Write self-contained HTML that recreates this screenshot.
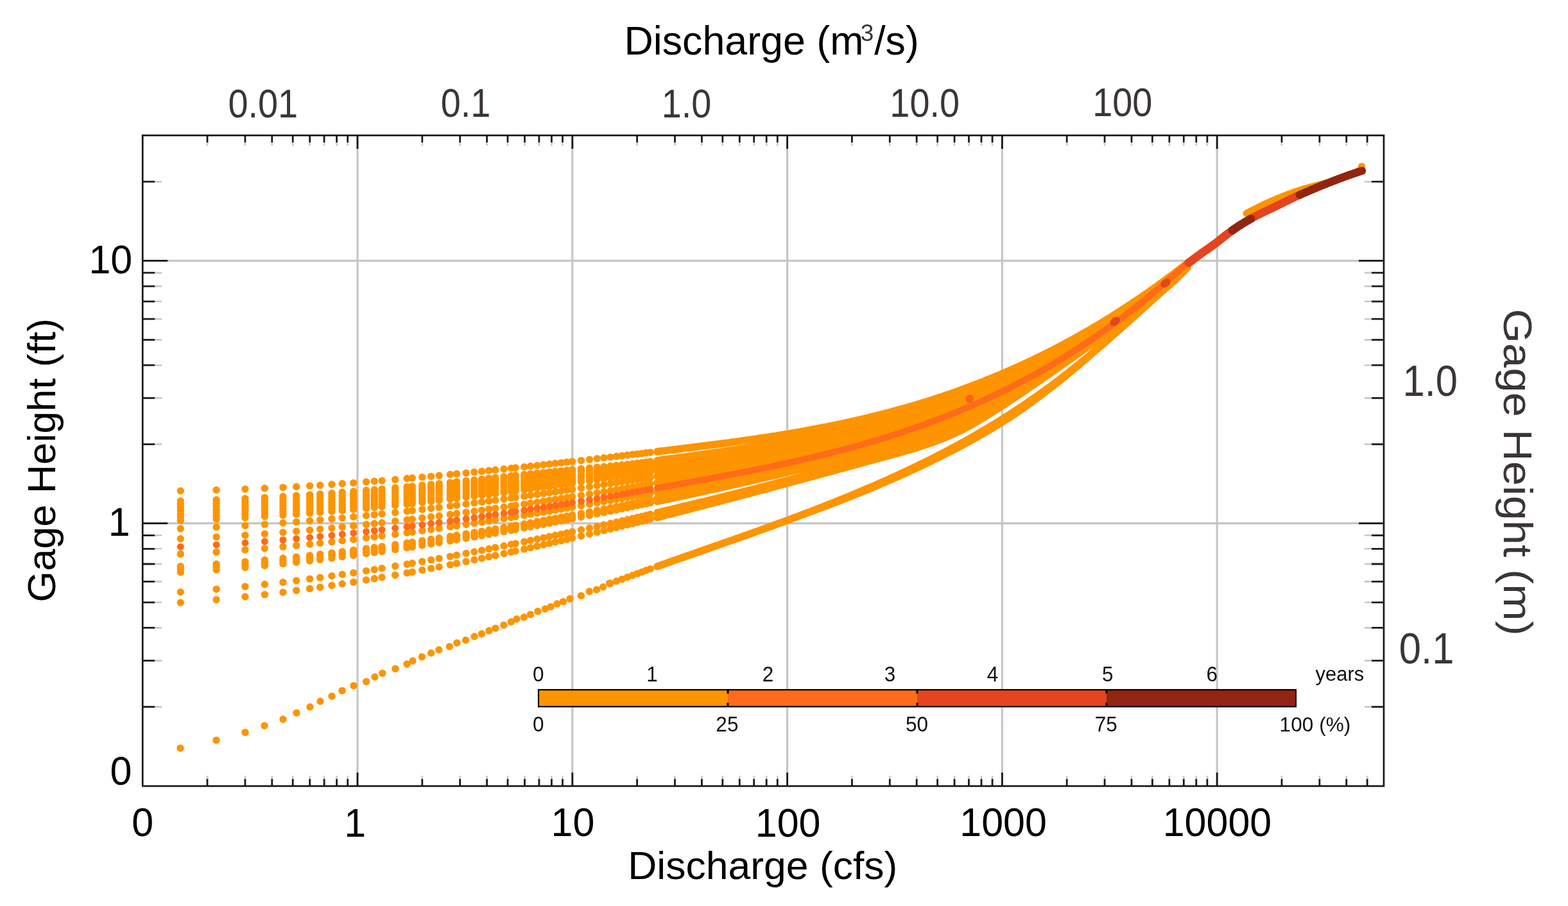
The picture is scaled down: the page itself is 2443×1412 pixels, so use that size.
<!DOCTYPE html>
<html><head><meta charset="utf-8"><title>Rating curve</title><style>html,body{margin:0;padding:0;background:#fff;overflow:hidden}svg{display:block}</style></head><body>
<svg width="2443" height="1412" viewBox="0 0 2443 1412" font-family="'Liberation Sans', Arial, Helvetica, sans-serif">
<rect x="0" y="0" width="2443" height="1412" fill="#fff"/>
<path d="M557.0 211.0V1225.1M891.8 211.0V1225.1M1226.6 211.0V1225.1M1561.4 211.0V1225.1M1896.2 211.0V1225.1M222.2 815.6H2156.0M222.2 406.4H2156.0" stroke="#c6c6c6" stroke-width="3.2" fill="none"/>
<g fill="#fe9400"><circle cx="281.3" cy="765.0" r="5.7"/><circle cx="337.1" cy="763.8" r="5.7"/><circle cx="381.9" cy="762.3" r="5.7"/><circle cx="412.4" cy="761.0" r="5.7"/><circle cx="440.9" cy="759.6" r="5.7"/><circle cx="461.7" cy="758.5" r="5.7"/><circle cx="482.6" cy="757.2" r="5.7"/><circle cx="498.7" cy="756.2" r="5.7"/><circle cx="516.9" cy="755.0" r="5.7"/><circle cx="533.2" cy="753.8" r="5.7"/><circle cx="550.7" cy="752.6" r="5.7"/><circle cx="570.6" cy="751.0" r="5.7"/><circle cx="583.2" cy="750.0" r="5.7"/><circle cx="595.0" cy="749.1" r="5.7"/><circle cx="615.7" cy="747.4" r="5.7"/><circle cx="634.1" cy="745.8" r="5.7"/><circle cx="642.3" cy="745.0" r="5.7"/><circle cx="657.8" cy="743.6" r="5.7"/><circle cx="671.6" cy="742.4" r="5.7"/><circle cx="684.1" cy="741.2" r="5.7"/><circle cx="701.4" cy="739.5" r="5.7"/><circle cx="711.5" cy="738.5" r="5.7"/><circle cx="726.2" cy="737.1" r="5.7"/><circle cx="738.9" cy="735.8" r="5.7"/><circle cx="750.6" cy="734.6" r="5.7"/><circle cx="761.7" cy="733.4" r="5.7"/><circle cx="771.8" cy="732.4" r="5.7"/><circle cx="785.1" cy="731.0" r="5.7"/><circle cx="796.4" cy="729.8" r="5.7"/><circle cx="803.2" cy="729.0" r="5.7"/><circle cx="816.7" cy="727.6" r="5.7"/><circle cx="826.5" cy="726.5" r="5.7"/><circle cx="836.9" cy="725.4" r="5.7"/><circle cx="846.8" cy="724.3" r="5.7"/><circle cx="856.0" cy="723.2" r="5.7"/><circle cx="865.2" cy="722.2" r="5.7"/><circle cx="874.4" cy="721.2" r="5.7"/><circle cx="883.0" cy="720.2" r="5.7"/><circle cx="891.6" cy="719.2" r="5.7"/><circle cx="905.5" cy="717.6" r="5.7"/><circle cx="918.5" cy="716.1" r="5.7"/><circle cx="930.2" cy="714.8" r="5.7"/><circle cx="940.9" cy="713.5" r="5.7"/><circle cx="951.0" cy="712.4" r="5.7"/><circle cx="960.4" cy="711.3" r="5.7"/><circle cx="969.2" cy="710.2" r="5.7"/><circle cx="977.5" cy="709.3" r="5.7"/><circle cx="985.4" cy="708.3" r="5.7"/><circle cx="992.9" cy="707.4" r="5.7"/><circle cx="1000.0" cy="706.6" r="5.7"/><circle cx="1006.8" cy="705.8" r="5.7"/><circle cx="1013.2" cy="705.1" r="5.7"/><circle cx="281.3" cy="780.7" r="5.7"/><circle cx="337.1" cy="778.9" r="5.7"/><circle cx="381.9" cy="777.0" r="5.7"/><circle cx="412.4" cy="775.4" r="5.7"/><circle cx="440.9" cy="773.8" r="5.7"/><circle cx="461.7" cy="772.5" r="5.7"/><circle cx="482.6" cy="771.1" r="5.7"/><circle cx="498.7" cy="769.9" r="5.7"/><circle cx="516.9" cy="768.6" r="5.7"/><circle cx="533.2" cy="767.3" r="5.7"/><circle cx="550.7" cy="765.9" r="5.7"/><circle cx="570.6" cy="764.3" r="5.7"/><circle cx="583.2" cy="763.2" r="5.7"/><circle cx="595.0" cy="762.1" r="5.7"/><circle cx="615.7" cy="760.3" r="5.7"/><circle cx="634.1" cy="758.6" r="5.7"/><circle cx="642.3" cy="757.8" r="5.7"/><circle cx="657.8" cy="756.3" r="5.7"/><circle cx="671.6" cy="754.9" r="5.7"/><circle cx="684.1" cy="753.6" r="5.7"/><circle cx="701.4" cy="751.9" r="5.7"/><circle cx="711.5" cy="750.8" r="5.7"/><circle cx="726.2" cy="749.2" r="5.7"/><circle cx="738.9" cy="747.9" r="5.7"/><circle cx="750.6" cy="746.6" r="5.7"/><circle cx="761.7" cy="745.4" r="5.7"/><circle cx="771.8" cy="744.2" r="5.7"/><circle cx="785.1" cy="742.7" r="5.7"/><circle cx="796.4" cy="741.5" r="5.7"/><circle cx="803.2" cy="740.7" r="5.7"/><circle cx="816.7" cy="739.3" r="5.7"/><circle cx="826.5" cy="738.3" r="5.7"/><circle cx="836.9" cy="737.3" r="5.7"/><circle cx="846.8" cy="736.3" r="5.7"/><circle cx="856.0" cy="735.4" r="5.7"/><circle cx="865.2" cy="734.5" r="5.7"/><circle cx="874.4" cy="733.6" r="5.7"/><circle cx="883.0" cy="732.7" r="5.7"/><circle cx="891.6" cy="731.9" r="5.7"/><circle cx="905.5" cy="730.4" r="5.7"/><circle cx="918.5" cy="729.2" r="5.7"/><circle cx="930.2" cy="728.1" r="5.7"/><circle cx="940.9" cy="727.1" r="5.7"/><circle cx="951.0" cy="726.2" r="5.7"/><circle cx="960.4" cy="725.3" r="5.7"/><circle cx="969.2" cy="724.5" r="5.7"/><circle cx="977.5" cy="723.6" r="5.7"/><circle cx="985.4" cy="722.7" r="5.7"/><circle cx="992.9" cy="721.8" r="5.7"/><circle cx="1000.0" cy="720.9" r="5.7"/><circle cx="1006.8" cy="720.0" r="5.7"/><circle cx="1013.2" cy="719.1" r="5.7"/><circle cx="281.3" cy="785.8" r="5.7"/><circle cx="337.1" cy="784.0" r="5.7"/><circle cx="381.9" cy="782.0" r="5.7"/><circle cx="412.4" cy="780.3" r="5.7"/><circle cx="440.9" cy="778.6" r="5.7"/><circle cx="461.7" cy="777.3" r="5.7"/><circle cx="482.6" cy="775.9" r="5.7"/><circle cx="498.7" cy="774.7" r="5.7"/><circle cx="516.9" cy="773.3" r="5.7"/><circle cx="533.2" cy="772.0" r="5.7"/><circle cx="550.7" cy="770.6" r="5.7"/><circle cx="570.6" cy="768.9" r="5.7"/><circle cx="583.2" cy="767.8" r="5.7"/><circle cx="595.0" cy="766.7" r="5.7"/><circle cx="615.7" cy="764.8" r="5.7"/><circle cx="634.1" cy="763.1" r="5.7"/><circle cx="642.3" cy="762.3" r="5.7"/><circle cx="657.8" cy="760.7" r="5.7"/><circle cx="671.6" cy="759.3" r="5.7"/><circle cx="684.1" cy="758.0" r="5.7"/><circle cx="701.4" cy="756.2" r="5.7"/><circle cx="711.5" cy="755.1" r="5.7"/><circle cx="726.2" cy="753.5" r="5.7"/><circle cx="738.9" cy="752.1" r="5.7"/><circle cx="750.6" cy="750.8" r="5.7"/><circle cx="761.7" cy="749.6" r="5.7"/><circle cx="771.8" cy="748.4" r="5.7"/><circle cx="785.1" cy="746.9" r="5.7"/><circle cx="796.4" cy="745.6" r="5.7"/><circle cx="803.2" cy="744.8" r="5.7"/><circle cx="816.7" cy="743.3" r="5.7"/><circle cx="826.5" cy="742.3" r="5.7"/><circle cx="836.9" cy="741.2" r="5.7"/><circle cx="846.8" cy="740.1" r="5.7"/><circle cx="856.0" cy="739.2" r="5.7"/><circle cx="865.2" cy="738.2" r="5.7"/><circle cx="874.4" cy="737.2" r="5.7"/><circle cx="883.0" cy="736.3" r="5.7"/><circle cx="891.6" cy="735.4" r="5.7"/><circle cx="905.5" cy="733.9" r="5.7"/><circle cx="918.5" cy="732.6" r="5.7"/><circle cx="930.2" cy="731.4" r="5.7"/><circle cx="940.9" cy="730.3" r="5.7"/><circle cx="951.0" cy="729.3" r="5.7"/><circle cx="960.4" cy="728.3" r="5.7"/><circle cx="969.2" cy="727.4" r="5.7"/><circle cx="977.5" cy="726.5" r="5.7"/><circle cx="985.4" cy="725.5" r="5.7"/><circle cx="992.9" cy="724.6" r="5.7"/><circle cx="1000.0" cy="723.7" r="5.7"/><circle cx="1006.8" cy="722.7" r="5.7"/><circle cx="1013.2" cy="721.9" r="5.7"/><circle cx="281.3" cy="790.9" r="5.7"/><circle cx="337.1" cy="789.0" r="5.7"/><circle cx="381.9" cy="786.9" r="5.7"/><circle cx="412.4" cy="785.3" r="5.7"/><circle cx="440.9" cy="783.5" r="5.7"/><circle cx="461.7" cy="782.1" r="5.7"/><circle cx="482.6" cy="780.7" r="5.7"/><circle cx="498.7" cy="779.5" r="5.7"/><circle cx="516.9" cy="778.1" r="5.7"/><circle cx="533.2" cy="776.7" r="5.7"/><circle cx="550.7" cy="775.3" r="5.7"/><circle cx="570.6" cy="773.5" r="5.7"/><circle cx="583.2" cy="772.4" r="5.7"/><circle cx="595.0" cy="771.3" r="5.7"/><circle cx="615.7" cy="769.4" r="5.7"/><circle cx="634.1" cy="767.6" r="5.7"/><circle cx="642.3" cy="766.7" r="5.7"/><circle cx="657.8" cy="765.2" r="5.7"/><circle cx="671.6" cy="763.7" r="5.7"/><circle cx="684.1" cy="762.4" r="5.7"/><circle cx="701.4" cy="760.6" r="5.7"/><circle cx="711.5" cy="759.5" r="5.7"/><circle cx="726.2" cy="757.8" r="5.7"/><circle cx="738.9" cy="756.4" r="5.7"/><circle cx="750.6" cy="755.1" r="5.7"/><circle cx="761.7" cy="753.8" r="5.7"/><circle cx="771.8" cy="752.6" r="5.7"/><circle cx="785.1" cy="751.0" r="5.7"/><circle cx="796.4" cy="749.7" r="5.7"/><circle cx="803.2" cy="748.9" r="5.7"/><circle cx="816.7" cy="747.4" r="5.7"/><circle cx="826.5" cy="746.3" r="5.7"/><circle cx="836.9" cy="745.1" r="5.7"/><circle cx="846.8" cy="744.0" r="5.7"/><circle cx="856.0" cy="743.0" r="5.7"/><circle cx="865.2" cy="742.0" r="5.7"/><circle cx="874.4" cy="740.9" r="5.7"/><circle cx="883.0" cy="739.9" r="5.7"/><circle cx="891.6" cy="739.0" r="5.7"/><circle cx="905.5" cy="737.4" r="5.7"/><circle cx="918.5" cy="735.9" r="5.7"/><circle cx="930.2" cy="734.6" r="5.7"/><circle cx="940.9" cy="733.5" r="5.7"/><circle cx="951.0" cy="732.4" r="5.7"/><circle cx="960.4" cy="731.3" r="5.7"/><circle cx="969.2" cy="730.3" r="5.7"/><circle cx="977.5" cy="729.3" r="5.7"/><circle cx="985.4" cy="728.4" r="5.7"/><circle cx="992.9" cy="727.4" r="5.7"/><circle cx="1000.0" cy="726.4" r="5.7"/><circle cx="1006.8" cy="725.5" r="5.7"/><circle cx="1013.2" cy="724.6" r="5.7"/><circle cx="281.3" cy="796.0" r="5.7"/><circle cx="337.1" cy="794.0" r="5.7"/><circle cx="381.9" cy="791.9" r="5.7"/><circle cx="412.4" cy="790.2" r="5.7"/><circle cx="440.9" cy="788.4" r="5.7"/><circle cx="461.7" cy="787.0" r="5.7"/><circle cx="482.6" cy="785.5" r="5.7"/><circle cx="498.7" cy="784.2" r="5.7"/><circle cx="516.9" cy="782.8" r="5.7"/><circle cx="533.2" cy="781.5" r="5.7"/><circle cx="550.7" cy="780.0" r="5.7"/><circle cx="570.6" cy="778.2" r="5.7"/><circle cx="583.2" cy="777.0" r="5.7"/><circle cx="595.0" cy="775.9" r="5.7"/><circle cx="615.7" cy="773.9" r="5.7"/><circle cx="634.1" cy="772.1" r="5.7"/><circle cx="642.3" cy="771.2" r="5.7"/><circle cx="657.8" cy="769.6" r="5.7"/><circle cx="671.6" cy="768.2" r="5.7"/><circle cx="684.1" cy="766.8" r="5.7"/><circle cx="701.4" cy="764.9" r="5.7"/><circle cx="711.5" cy="763.8" r="5.7"/><circle cx="726.2" cy="762.1" r="5.7"/><circle cx="738.9" cy="760.7" r="5.7"/><circle cx="750.6" cy="759.3" r="5.7"/><circle cx="761.7" cy="758.0" r="5.7"/><circle cx="771.8" cy="756.8" r="5.7"/><circle cx="785.1" cy="755.2" r="5.7"/><circle cx="796.4" cy="753.8" r="5.7"/><circle cx="803.2" cy="753.0" r="5.7"/><circle cx="816.7" cy="751.4" r="5.7"/><circle cx="826.5" cy="750.2" r="5.7"/><circle cx="836.9" cy="749.0" r="5.7"/><circle cx="846.8" cy="747.8" r="5.7"/><circle cx="856.0" cy="746.8" r="5.7"/><circle cx="865.2" cy="745.7" r="5.7"/><circle cx="874.4" cy="744.6" r="5.7"/><circle cx="883.0" cy="743.6" r="5.7"/><circle cx="891.6" cy="742.5" r="5.7"/><circle cx="905.5" cy="740.8" r="5.7"/><circle cx="918.5" cy="739.3" r="5.7"/><circle cx="930.2" cy="737.9" r="5.7"/><circle cx="940.9" cy="736.7" r="5.7"/><circle cx="951.0" cy="735.5" r="5.7"/><circle cx="960.4" cy="734.3" r="5.7"/><circle cx="969.2" cy="733.3" r="5.7"/><circle cx="977.5" cy="732.2" r="5.7"/><circle cx="985.4" cy="731.2" r="5.7"/><circle cx="992.9" cy="730.2" r="5.7"/><circle cx="1000.0" cy="729.2" r="5.7"/><circle cx="1006.8" cy="728.2" r="5.7"/><circle cx="1013.2" cy="727.3" r="5.7"/><circle cx="281.3" cy="801.0" r="5.7"/><circle cx="337.1" cy="799.0" r="5.7"/><circle cx="381.9" cy="796.8" r="5.7"/><circle cx="412.4" cy="795.1" r="5.7"/><circle cx="440.9" cy="793.3" r="5.7"/><circle cx="461.7" cy="791.8" r="5.7"/><circle cx="482.6" cy="790.3" r="5.7"/><circle cx="498.7" cy="789.0" r="5.7"/><circle cx="516.9" cy="787.5" r="5.7"/><circle cx="533.2" cy="786.2" r="5.7"/><circle cx="550.7" cy="784.6" r="5.7"/><circle cx="570.6" cy="782.8" r="5.7"/><circle cx="583.2" cy="781.6" r="5.7"/><circle cx="595.0" cy="780.5" r="5.7"/><circle cx="615.7" cy="778.5" r="5.7"/><circle cx="634.1" cy="776.6" r="5.7"/><circle cx="642.3" cy="775.7" r="5.7"/><circle cx="657.8" cy="774.1" r="5.7"/><circle cx="671.6" cy="772.6" r="5.7"/><circle cx="684.1" cy="771.2" r="5.7"/><circle cx="701.4" cy="769.3" r="5.7"/><circle cx="711.5" cy="768.1" r="5.7"/><circle cx="726.2" cy="766.4" r="5.7"/><circle cx="738.9" cy="764.9" r="5.7"/><circle cx="750.6" cy="763.5" r="5.7"/><circle cx="761.7" cy="762.2" r="5.7"/><circle cx="771.8" cy="760.9" r="5.7"/><circle cx="785.1" cy="759.3" r="5.7"/><circle cx="796.4" cy="757.9" r="5.7"/><circle cx="803.2" cy="757.1" r="5.7"/><circle cx="816.7" cy="755.4" r="5.7"/><circle cx="826.5" cy="754.2" r="5.7"/><circle cx="836.9" cy="752.9" r="5.7"/><circle cx="846.8" cy="751.7" r="5.7"/><circle cx="856.0" cy="750.6" r="5.7"/><circle cx="865.2" cy="749.4" r="5.7"/><circle cx="874.4" cy="748.3" r="5.7"/><circle cx="883.0" cy="747.2" r="5.7"/><circle cx="891.6" cy="746.1" r="5.7"/><circle cx="905.5" cy="744.3" r="5.7"/><circle cx="918.5" cy="742.7" r="5.7"/><circle cx="930.2" cy="741.2" r="5.7"/><circle cx="940.9" cy="739.8" r="5.7"/><circle cx="951.0" cy="738.5" r="5.7"/><circle cx="960.4" cy="737.3" r="5.7"/><circle cx="969.2" cy="736.2" r="5.7"/><circle cx="977.5" cy="735.1" r="5.7"/><circle cx="985.4" cy="734.0" r="5.7"/><circle cx="992.9" cy="733.0" r="5.7"/><circle cx="1000.0" cy="732.0" r="5.7"/><circle cx="1006.8" cy="731.0" r="5.7"/><circle cx="1013.2" cy="730.1" r="5.7"/><circle cx="281.3" cy="806.1" r="5.7"/><circle cx="337.1" cy="804.0" r="5.7"/><circle cx="381.9" cy="801.8" r="5.7"/><circle cx="412.4" cy="800.0" r="5.7"/><circle cx="440.9" cy="798.1" r="5.7"/><circle cx="461.7" cy="796.6" r="5.7"/><circle cx="482.6" cy="795.1" r="5.7"/><circle cx="498.7" cy="793.8" r="5.7"/><circle cx="516.9" cy="792.3" r="5.7"/><circle cx="533.2" cy="790.9" r="5.7"/><circle cx="550.7" cy="789.3" r="5.7"/><circle cx="570.6" cy="787.5" r="5.7"/><circle cx="583.2" cy="786.2" r="5.7"/><circle cx="595.0" cy="785.1" r="5.7"/><circle cx="615.7" cy="783.0" r="5.7"/><circle cx="634.1" cy="781.1" r="5.7"/><circle cx="642.3" cy="780.2" r="5.7"/><circle cx="657.8" cy="778.5" r="5.7"/><circle cx="671.6" cy="777.0" r="5.7"/><circle cx="684.1" cy="775.6" r="5.7"/><circle cx="701.4" cy="773.6" r="5.7"/><circle cx="711.5" cy="772.4" r="5.7"/><circle cx="726.2" cy="770.7" r="5.7"/><circle cx="738.9" cy="769.2" r="5.7"/><circle cx="750.6" cy="767.8" r="5.7"/><circle cx="761.7" cy="766.4" r="5.7"/><circle cx="771.8" cy="765.1" r="5.7"/><circle cx="785.1" cy="763.5" r="5.7"/><circle cx="796.4" cy="762.0" r="5.7"/><circle cx="803.2" cy="761.2" r="5.7"/><circle cx="816.7" cy="759.4" r="5.7"/><circle cx="826.5" cy="758.2" r="5.7"/><circle cx="836.9" cy="756.8" r="5.7"/><circle cx="846.8" cy="755.5" r="5.7"/><circle cx="856.0" cy="754.3" r="5.7"/><circle cx="865.2" cy="753.1" r="5.7"/><circle cx="874.4" cy="751.9" r="5.7"/><circle cx="883.0" cy="750.8" r="5.7"/><circle cx="891.6" cy="749.6" r="5.7"/><circle cx="905.5" cy="747.8" r="5.7"/><circle cx="918.5" cy="746.0" r="5.7"/><circle cx="930.2" cy="744.4" r="5.7"/><circle cx="940.9" cy="743.0" r="5.7"/><circle cx="951.0" cy="741.6" r="5.7"/><circle cx="960.4" cy="740.3" r="5.7"/><circle cx="969.2" cy="739.1" r="5.7"/><circle cx="977.5" cy="738.0" r="5.7"/><circle cx="985.4" cy="736.8" r="5.7"/><circle cx="992.9" cy="735.8" r="5.7"/><circle cx="1000.0" cy="734.7" r="5.7"/><circle cx="1006.8" cy="733.7" r="5.7"/><circle cx="1013.2" cy="732.8" r="5.7"/><circle cx="281.3" cy="811.2" r="5.7"/><circle cx="337.1" cy="809.1" r="5.7"/><circle cx="381.9" cy="806.7" r="5.7"/><circle cx="412.4" cy="804.9" r="5.7"/><circle cx="440.9" cy="803.0" r="5.7"/><circle cx="461.7" cy="801.5" r="5.7"/><circle cx="482.6" cy="799.9" r="5.7"/><circle cx="498.7" cy="798.6" r="5.7"/><circle cx="516.9" cy="797.0" r="5.7"/><circle cx="533.2" cy="795.6" r="5.7"/><circle cx="550.7" cy="794.0" r="5.7"/><circle cx="570.6" cy="792.1" r="5.7"/><circle cx="583.2" cy="790.9" r="5.7"/><circle cx="595.0" cy="789.7" r="5.7"/><circle cx="615.7" cy="787.5" r="5.7"/><circle cx="634.1" cy="785.6" r="5.7"/><circle cx="642.3" cy="784.7" r="5.7"/><circle cx="657.8" cy="783.0" r="5.7"/><circle cx="671.6" cy="781.4" r="5.7"/><circle cx="684.1" cy="780.0" r="5.7"/><circle cx="701.4" cy="778.0" r="5.7"/><circle cx="711.5" cy="776.8" r="5.7"/><circle cx="726.2" cy="775.0" r="5.7"/><circle cx="738.9" cy="773.4" r="5.7"/><circle cx="750.6" cy="772.0" r="5.7"/><circle cx="761.7" cy="770.6" r="5.7"/><circle cx="771.8" cy="769.3" r="5.7"/><circle cx="785.1" cy="767.6" r="5.7"/><circle cx="796.4" cy="766.1" r="5.7"/><circle cx="803.2" cy="765.2" r="5.7"/><circle cx="816.7" cy="763.5" r="5.7"/><circle cx="826.5" cy="762.1" r="5.7"/><circle cx="836.9" cy="760.7" r="5.7"/><circle cx="846.8" cy="759.4" r="5.7"/><circle cx="856.0" cy="758.1" r="5.7"/><circle cx="865.2" cy="756.9" r="5.7"/><circle cx="874.4" cy="755.6" r="5.7"/><circle cx="883.0" cy="754.4" r="5.7"/><circle cx="891.6" cy="753.2" r="5.7"/><circle cx="905.5" cy="751.2" r="5.7"/><circle cx="918.5" cy="749.4" r="5.7"/><circle cx="930.2" cy="747.7" r="5.7"/><circle cx="940.9" cy="746.2" r="5.7"/><circle cx="951.0" cy="744.7" r="5.7"/><circle cx="960.4" cy="743.3" r="5.7"/><circle cx="969.2" cy="742.0" r="5.7"/><circle cx="977.5" cy="740.8" r="5.7"/><circle cx="985.4" cy="739.7" r="5.7"/><circle cx="992.9" cy="738.6" r="5.7"/><circle cx="1000.0" cy="737.5" r="5.7"/><circle cx="1006.8" cy="736.5" r="5.7"/><circle cx="1013.2" cy="735.5" r="5.7"/><circle cx="281.3" cy="824.0" r="5.7"/><circle cx="337.1" cy="821.6" r="5.7"/><circle cx="381.9" cy="819.1" r="5.7"/><circle cx="412.4" cy="817.1" r="5.7"/><circle cx="440.9" cy="815.0" r="5.7"/><circle cx="461.7" cy="813.4" r="5.7"/><circle cx="482.6" cy="811.7" r="5.7"/><circle cx="498.7" cy="810.3" r="5.7"/><circle cx="516.9" cy="808.7" r="5.7"/><circle cx="533.2" cy="807.2" r="5.7"/><circle cx="550.7" cy="805.5" r="5.7"/><circle cx="570.6" cy="803.5" r="5.7"/><circle cx="583.2" cy="802.2" r="5.7"/><circle cx="595.0" cy="800.9" r="5.7"/><circle cx="615.7" cy="798.7" r="5.7"/><circle cx="634.1" cy="796.6" r="5.7"/><circle cx="642.3" cy="795.7" r="5.7"/><circle cx="657.8" cy="793.9" r="5.7"/><circle cx="671.6" cy="792.3" r="5.7"/><circle cx="684.1" cy="790.8" r="5.7"/><circle cx="701.4" cy="788.6" r="5.7"/><circle cx="711.5" cy="787.4" r="5.7"/><circle cx="726.2" cy="785.5" r="5.7"/><circle cx="738.9" cy="783.9" r="5.7"/><circle cx="750.6" cy="782.4" r="5.7"/><circle cx="761.7" cy="780.9" r="5.7"/><circle cx="771.8" cy="779.5" r="5.7"/><circle cx="785.1" cy="777.8" r="5.7"/><circle cx="796.4" cy="776.2" r="5.7"/><circle cx="803.2" cy="775.3" r="5.7"/><circle cx="816.7" cy="773.4" r="5.7"/><circle cx="826.5" cy="772.0" r="5.7"/><circle cx="836.9" cy="770.6" r="5.7"/><circle cx="846.8" cy="769.1" r="5.7"/><circle cx="856.0" cy="767.8" r="5.7"/><circle cx="865.2" cy="766.5" r="5.7"/><circle cx="874.4" cy="765.2" r="5.7"/><circle cx="883.0" cy="763.9" r="5.7"/><circle cx="891.6" cy="762.6" r="5.7"/><circle cx="905.5" cy="760.6" r="5.7"/><circle cx="918.5" cy="758.6" r="5.7"/><circle cx="930.2" cy="756.8" r="5.7"/><circle cx="940.9" cy="755.2" r="5.7"/><circle cx="951.0" cy="753.7" r="5.7"/><circle cx="960.4" cy="752.2" r="5.7"/><circle cx="969.2" cy="750.9" r="5.7"/><circle cx="977.5" cy="749.6" r="5.7"/><circle cx="985.4" cy="748.4" r="5.7"/><circle cx="992.9" cy="747.2" r="5.7"/><circle cx="1000.0" cy="746.1" r="5.7"/><circle cx="1006.8" cy="745.0" r="5.7"/><circle cx="1013.2" cy="744.0" r="5.7"/><circle cx="281.3" cy="839.7" r="5.7"/><circle cx="337.1" cy="836.9" r="5.7"/><circle cx="381.9" cy="834.2" r="5.7"/><circle cx="412.4" cy="832.0" r="5.7"/><circle cx="440.9" cy="829.8" r="5.7"/><circle cx="461.7" cy="828.0" r="5.7"/><circle cx="482.6" cy="826.2" r="5.7"/><circle cx="498.7" cy="824.7" r="5.7"/><circle cx="516.9" cy="823.0" r="5.7"/><circle cx="533.2" cy="821.3" r="5.7"/><circle cx="550.7" cy="819.5" r="5.7"/><circle cx="570.6" cy="817.4" r="5.7"/><circle cx="583.2" cy="816.0" r="5.7"/><circle cx="595.0" cy="814.7" r="5.7"/><circle cx="615.7" cy="812.3" r="5.7"/><circle cx="634.1" cy="810.2" r="5.7"/><circle cx="642.3" cy="809.2" r="5.7"/><circle cx="657.8" cy="807.3" r="5.7"/><circle cx="671.6" cy="805.5" r="5.7"/><circle cx="684.1" cy="804.0" r="5.7"/><circle cx="701.4" cy="801.7" r="5.7"/><circle cx="711.5" cy="800.4" r="5.7"/><circle cx="726.2" cy="798.4" r="5.7"/><circle cx="738.9" cy="796.7" r="5.7"/><circle cx="750.6" cy="795.1" r="5.7"/><circle cx="761.7" cy="793.5" r="5.7"/><circle cx="771.8" cy="792.1" r="5.7"/><circle cx="785.1" cy="790.2" r="5.7"/><circle cx="796.4" cy="788.6" r="5.7"/><circle cx="803.2" cy="787.6" r="5.7"/><circle cx="816.7" cy="785.6" r="5.7"/><circle cx="826.5" cy="784.1" r="5.7"/><circle cx="836.9" cy="782.6" r="5.7"/><circle cx="846.8" cy="781.1" r="5.7"/><circle cx="856.0" cy="779.7" r="5.7"/><circle cx="865.2" cy="778.3" r="5.7"/><circle cx="874.4" cy="776.8" r="5.7"/><circle cx="883.0" cy="775.5" r="5.7"/><circle cx="891.6" cy="774.2" r="5.7"/><circle cx="905.5" cy="772.0" r="5.7"/><circle cx="918.5" cy="769.9" r="5.7"/><circle cx="930.2" cy="768.0" r="5.7"/><circle cx="940.9" cy="766.3" r="5.7"/><circle cx="951.0" cy="764.7" r="5.7"/><circle cx="960.4" cy="763.1" r="5.7"/><circle cx="969.2" cy="761.7" r="5.7"/><circle cx="977.5" cy="760.3" r="5.7"/><circle cx="985.4" cy="759.0" r="5.7"/><circle cx="992.9" cy="757.8" r="5.7"/><circle cx="1000.0" cy="756.6" r="5.7"/><circle cx="1006.8" cy="755.4" r="5.7"/><circle cx="1013.2" cy="754.3" r="5.7"/><circle cx="281.3" cy="863.5" r="5.7"/><circle cx="337.1" cy="860.2" r="5.7"/><circle cx="381.9" cy="857.0" r="5.7"/><circle cx="412.4" cy="854.6" r="5.7"/><circle cx="440.9" cy="852.1" r="5.7"/><circle cx="461.7" cy="850.1" r="5.7"/><circle cx="482.6" cy="848.1" r="5.7"/><circle cx="498.7" cy="846.4" r="5.7"/><circle cx="516.9" cy="844.5" r="5.7"/><circle cx="533.2" cy="842.7" r="5.7"/><circle cx="550.7" cy="840.7" r="5.7"/><circle cx="570.6" cy="838.3" r="5.7"/><circle cx="583.2" cy="836.8" r="5.7"/><circle cx="595.0" cy="835.3" r="5.7"/><circle cx="615.7" cy="832.7" r="5.7"/><circle cx="634.1" cy="830.3" r="5.7"/><circle cx="642.3" cy="829.2" r="5.7"/><circle cx="657.8" cy="827.1" r="5.7"/><circle cx="671.6" cy="825.2" r="5.7"/><circle cx="684.1" cy="823.4" r="5.7"/><circle cx="701.4" cy="820.9" r="5.7"/><circle cx="711.5" cy="819.4" r="5.7"/><circle cx="726.2" cy="817.3" r="5.7"/><circle cx="738.9" cy="815.4" r="5.7"/><circle cx="750.6" cy="813.6" r="5.7"/><circle cx="761.7" cy="811.9" r="5.7"/><circle cx="771.8" cy="810.3" r="5.7"/><circle cx="785.1" cy="808.2" r="5.7"/><circle cx="796.4" cy="806.4" r="5.7"/><circle cx="803.2" cy="805.3" r="5.7"/><circle cx="816.7" cy="803.1" r="5.7"/><circle cx="826.5" cy="801.5" r="5.7"/><circle cx="836.9" cy="799.8" r="5.7"/><circle cx="846.8" cy="798.2" r="5.7"/><circle cx="856.0" cy="796.6" r="5.7"/><circle cx="865.2" cy="795.1" r="5.7"/><circle cx="874.4" cy="793.5" r="5.7"/><circle cx="883.0" cy="792.0" r="5.7"/><circle cx="891.6" cy="790.5" r="5.7"/><circle cx="905.5" cy="788.1" r="5.7"/><circle cx="918.5" cy="785.8" r="5.7"/><circle cx="930.2" cy="783.8" r="5.7"/><circle cx="940.9" cy="781.8" r="5.7"/><circle cx="951.0" cy="780.0" r="5.7"/><circle cx="960.4" cy="778.3" r="5.7"/><circle cx="969.2" cy="776.7" r="5.7"/><circle cx="977.5" cy="775.2" r="5.7"/><circle cx="985.4" cy="773.8" r="5.7"/><circle cx="992.9" cy="772.4" r="5.7"/><circle cx="1000.0" cy="771.1" r="5.7"/><circle cx="1006.8" cy="769.8" r="5.7"/><circle cx="1013.2" cy="768.6" r="5.7"/><circle cx="281.3" cy="882.6" r="5.7"/><circle cx="337.1" cy="879.0" r="5.7"/><circle cx="381.9" cy="875.5" r="5.7"/><circle cx="412.4" cy="872.8" r="5.7"/><circle cx="440.9" cy="870.0" r="5.7"/><circle cx="461.7" cy="867.9" r="5.7"/><circle cx="482.6" cy="865.6" r="5.7"/><circle cx="498.7" cy="863.8" r="5.7"/><circle cx="516.9" cy="861.6" r="5.7"/><circle cx="533.2" cy="859.7" r="5.7"/><circle cx="550.7" cy="857.5" r="5.7"/><circle cx="570.6" cy="854.9" r="5.7"/><circle cx="583.2" cy="853.2" r="5.7"/><circle cx="595.0" cy="851.6" r="5.7"/><circle cx="615.7" cy="848.7" r="5.7"/><circle cx="634.1" cy="846.1" r="5.7"/><circle cx="642.3" cy="844.9" r="5.7"/><circle cx="657.8" cy="842.6" r="5.7"/><circle cx="671.6" cy="840.5" r="5.7"/><circle cx="684.1" cy="838.6" r="5.7"/><circle cx="701.4" cy="835.9" r="5.7"/><circle cx="711.5" cy="834.3" r="5.7"/><circle cx="726.2" cy="831.9" r="5.7"/><circle cx="738.9" cy="829.8" r="5.7"/><circle cx="750.6" cy="827.9" r="5.7"/><circle cx="761.7" cy="826.0" r="5.7"/><circle cx="771.8" cy="824.3" r="5.7"/><circle cx="785.1" cy="822.0" r="5.7"/><circle cx="796.4" cy="820.0" r="5.7"/><circle cx="803.2" cy="818.8" r="5.7"/><circle cx="816.7" cy="816.5" r="5.7"/><circle cx="826.5" cy="814.7" r="5.7"/><circle cx="836.9" cy="812.8" r="5.7"/><circle cx="846.8" cy="811.0" r="5.7"/><circle cx="856.0" cy="809.3" r="5.7"/><circle cx="865.2" cy="807.6" r="5.7"/><circle cx="874.4" cy="805.9" r="5.7"/><circle cx="883.0" cy="804.3" r="5.7"/><circle cx="891.6" cy="802.7" r="5.7"/><circle cx="905.5" cy="800.1" r="5.7"/><circle cx="918.5" cy="797.6" r="5.7"/><circle cx="930.2" cy="795.3" r="5.7"/><circle cx="940.9" cy="793.2" r="5.7"/><circle cx="951.0" cy="791.3" r="5.7"/><circle cx="960.4" cy="789.4" r="5.7"/><circle cx="969.2" cy="787.7" r="5.7"/><circle cx="977.5" cy="786.0" r="5.7"/><circle cx="985.4" cy="784.4" r="5.7"/><circle cx="992.9" cy="782.9" r="5.7"/><circle cx="1000.0" cy="781.5" r="5.7"/><circle cx="1006.8" cy="780.1" r="5.7"/><circle cx="1013.2" cy="778.8" r="5.7"/><circle cx="281.3" cy="887.0" r="5.7"/><circle cx="337.1" cy="883.3" r="5.7"/><circle cx="381.9" cy="879.7" r="5.7"/><circle cx="412.4" cy="876.9" r="5.7"/><circle cx="440.9" cy="874.1" r="5.7"/><circle cx="461.7" cy="871.9" r="5.7"/><circle cx="482.6" cy="869.6" r="5.7"/><circle cx="498.7" cy="867.7" r="5.7"/><circle cx="516.9" cy="865.6" r="5.7"/><circle cx="533.2" cy="863.5" r="5.7"/><circle cx="550.7" cy="861.3" r="5.7"/><circle cx="570.6" cy="858.7" r="5.7"/><circle cx="583.2" cy="857.0" r="5.7"/><circle cx="595.0" cy="855.3" r="5.7"/><circle cx="615.7" cy="852.4" r="5.7"/><circle cx="634.1" cy="849.7" r="5.7"/><circle cx="642.3" cy="848.5" r="5.7"/><circle cx="657.8" cy="846.1" r="5.7"/><circle cx="671.6" cy="844.0" r="5.7"/><circle cx="684.1" cy="842.0" r="5.7"/><circle cx="701.4" cy="839.3" r="5.7"/><circle cx="711.5" cy="837.6" r="5.7"/><circle cx="726.2" cy="835.2" r="5.7"/><circle cx="738.9" cy="833.1" r="5.7"/><circle cx="750.6" cy="831.1" r="5.7"/><circle cx="761.7" cy="829.2" r="5.7"/><circle cx="771.8" cy="827.5" r="5.7"/><circle cx="785.1" cy="825.1" r="5.7"/><circle cx="796.4" cy="823.1" r="5.7"/><circle cx="803.2" cy="821.9" r="5.7"/><circle cx="816.7" cy="819.5" r="5.7"/><circle cx="826.5" cy="817.7" r="5.7"/><circle cx="836.9" cy="815.8" r="5.7"/><circle cx="846.8" cy="813.9" r="5.7"/><circle cx="856.0" cy="812.2" r="5.7"/><circle cx="865.2" cy="810.5" r="5.7"/><circle cx="874.4" cy="808.8" r="5.7"/><circle cx="883.0" cy="807.1" r="5.7"/><circle cx="891.6" cy="805.5" r="5.7"/><circle cx="905.5" cy="802.8" r="5.7"/><circle cx="918.5" cy="800.2" r="5.7"/><circle cx="930.2" cy="797.9" r="5.7"/><circle cx="940.9" cy="795.8" r="5.7"/><circle cx="951.0" cy="793.8" r="5.7"/><circle cx="960.4" cy="791.9" r="5.7"/><circle cx="969.2" cy="790.2" r="5.7"/><circle cx="977.5" cy="788.5" r="5.7"/><circle cx="985.4" cy="786.9" r="5.7"/><circle cx="992.9" cy="785.3" r="5.7"/><circle cx="1000.0" cy="783.9" r="5.7"/><circle cx="1006.8" cy="782.5" r="5.7"/><circle cx="1013.2" cy="781.2" r="5.7"/><circle cx="281.3" cy="891.8" r="5.7"/><circle cx="337.1" cy="888.0" r="5.7"/><circle cx="381.9" cy="884.3" r="5.7"/><circle cx="412.4" cy="881.5" r="5.7"/><circle cx="440.9" cy="878.6" r="5.7"/><circle cx="461.7" cy="876.3" r="5.7"/><circle cx="482.6" cy="874.0" r="5.7"/><circle cx="498.7" cy="872.1" r="5.7"/><circle cx="516.9" cy="869.9" r="5.7"/><circle cx="533.2" cy="867.8" r="5.7"/><circle cx="550.7" cy="865.5" r="5.7"/><circle cx="570.6" cy="862.8" r="5.7"/><circle cx="583.2" cy="861.1" r="5.7"/><circle cx="595.0" cy="859.4" r="5.7"/><circle cx="615.7" cy="856.4" r="5.7"/><circle cx="634.1" cy="853.7" r="5.7"/><circle cx="642.3" cy="852.4" r="5.7"/><circle cx="657.8" cy="850.0" r="5.7"/><circle cx="671.6" cy="847.8" r="5.7"/><circle cx="684.1" cy="845.8" r="5.7"/><circle cx="701.4" cy="843.0" r="5.7"/><circle cx="711.5" cy="841.3" r="5.7"/><circle cx="726.2" cy="838.9" r="5.7"/><circle cx="738.9" cy="836.7" r="5.7"/><circle cx="750.6" cy="834.7" r="5.7"/><circle cx="761.7" cy="832.7" r="5.7"/><circle cx="771.8" cy="831.0" r="5.7"/><circle cx="785.1" cy="828.6" r="5.7"/><circle cx="796.4" cy="826.5" r="5.7"/><circle cx="803.2" cy="825.3" r="5.7"/><circle cx="816.7" cy="822.8" r="5.7"/><circle cx="826.5" cy="821.0" r="5.7"/><circle cx="836.9" cy="819.0" r="5.7"/><circle cx="846.8" cy="817.2" r="5.7"/><circle cx="856.0" cy="815.4" r="5.7"/><circle cx="865.2" cy="813.6" r="5.7"/><circle cx="874.4" cy="811.9" r="5.7"/><circle cx="883.0" cy="810.2" r="5.7"/><circle cx="891.6" cy="808.5" r="5.7"/><circle cx="905.5" cy="805.8" r="5.7"/><circle cx="918.5" cy="803.2" r="5.7"/><circle cx="930.2" cy="800.8" r="5.7"/><circle cx="940.9" cy="798.7" r="5.7"/><circle cx="951.0" cy="796.6" r="5.7"/><circle cx="960.4" cy="794.7" r="5.7"/><circle cx="969.2" cy="792.9" r="5.7"/><circle cx="977.5" cy="791.2" r="5.7"/><circle cx="985.4" cy="789.5" r="5.7"/><circle cx="992.9" cy="788.0" r="5.7"/><circle cx="1000.0" cy="786.5" r="5.7"/><circle cx="1006.8" cy="785.1" r="5.7"/><circle cx="1013.2" cy="783.7" r="5.7"/><circle cx="281.3" cy="922.7" r="5.7"/><circle cx="337.1" cy="918.3" r="5.7"/><circle cx="381.9" cy="914.1" r="5.7"/><circle cx="412.4" cy="910.8" r="5.7"/><circle cx="440.9" cy="907.5" r="5.7"/><circle cx="461.7" cy="905.0" r="5.7"/><circle cx="482.6" cy="902.3" r="5.7"/><circle cx="498.7" cy="900.1" r="5.7"/><circle cx="516.9" cy="897.6" r="5.7"/><circle cx="533.2" cy="895.3" r="5.7"/><circle cx="550.7" cy="892.7" r="5.7"/><circle cx="570.6" cy="889.6" r="5.7"/><circle cx="583.2" cy="887.6" r="5.7"/><circle cx="595.0" cy="885.7" r="5.7"/><circle cx="615.7" cy="882.3" r="5.7"/><circle cx="634.1" cy="879.2" r="5.7"/><circle cx="642.3" cy="877.8" r="5.7"/><circle cx="657.8" cy="875.1" r="5.7"/><circle cx="671.6" cy="872.6" r="5.7"/><circle cx="684.1" cy="870.4" r="5.7"/><circle cx="701.4" cy="867.2" r="5.7"/><circle cx="711.5" cy="865.3" r="5.7"/><circle cx="726.2" cy="862.5" r="5.7"/><circle cx="738.9" cy="860.0" r="5.7"/><circle cx="750.6" cy="857.7" r="5.7"/><circle cx="761.7" cy="855.5" r="5.7"/><circle cx="771.8" cy="853.5" r="5.7"/><circle cx="785.1" cy="850.8" r="5.7"/><circle cx="796.4" cy="848.5" r="5.7"/><circle cx="803.2" cy="847.1" r="5.7"/><circle cx="816.7" cy="844.3" r="5.7"/><circle cx="826.5" cy="842.3" r="5.7"/><circle cx="836.9" cy="840.2" r="5.7"/><circle cx="846.8" cy="838.1" r="5.7"/><circle cx="856.0" cy="836.2" r="5.7"/><circle cx="865.2" cy="834.3" r="5.7"/><circle cx="874.4" cy="832.4" r="5.7"/><circle cx="883.0" cy="830.6" r="5.7"/><circle cx="891.6" cy="828.8" r="5.7"/><circle cx="905.5" cy="825.8" r="5.7"/><circle cx="918.5" cy="823.0" r="5.7"/><circle cx="930.2" cy="820.4" r="5.7"/><circle cx="940.9" cy="818.0" r="5.7"/><circle cx="951.0" cy="815.8" r="5.7"/><circle cx="960.4" cy="813.7" r="5.7"/><circle cx="969.2" cy="811.7" r="5.7"/><circle cx="977.5" cy="809.8" r="5.7"/><circle cx="985.4" cy="808.0" r="5.7"/><circle cx="992.9" cy="806.2" r="5.7"/><circle cx="1000.0" cy="804.6" r="5.7"/><circle cx="1006.8" cy="803.0" r="5.7"/><circle cx="1013.2" cy="801.5" r="5.7"/><circle cx="281.3" cy="939.2" r="5.7"/><circle cx="337.1" cy="934.6" r="5.7"/><circle cx="381.9" cy="930.0" r="5.7"/><circle cx="412.4" cy="926.6" r="5.7"/><circle cx="440.9" cy="923.1" r="5.7"/><circle cx="461.7" cy="920.3" r="5.7"/><circle cx="482.6" cy="917.4" r="5.7"/><circle cx="498.7" cy="915.1" r="5.7"/><circle cx="516.9" cy="912.4" r="5.7"/><circle cx="533.2" cy="910.0" r="5.7"/><circle cx="550.7" cy="907.2" r="5.7"/><circle cx="570.6" cy="903.9" r="5.7"/><circle cx="583.2" cy="901.8" r="5.7"/><circle cx="595.0" cy="899.8" r="5.7"/><circle cx="615.7" cy="896.2" r="5.7"/><circle cx="634.1" cy="892.9" r="5.7"/><circle cx="642.3" cy="891.4" r="5.7"/><circle cx="657.8" cy="888.5" r="5.7"/><circle cx="671.6" cy="885.9" r="5.7"/><circle cx="684.1" cy="883.5" r="5.7"/><circle cx="701.4" cy="880.1" r="5.7"/><circle cx="711.5" cy="878.1" r="5.7"/><circle cx="726.2" cy="875.1" r="5.7"/><circle cx="738.9" cy="872.5" r="5.7"/><circle cx="750.6" cy="870.1" r="5.7"/><circle cx="761.7" cy="867.7" r="5.7"/><circle cx="771.8" cy="865.6" r="5.7"/><circle cx="785.1" cy="862.7" r="5.7"/><circle cx="796.4" cy="860.3" r="5.7"/><circle cx="803.2" cy="858.8" r="5.7"/><circle cx="816.7" cy="855.8" r="5.7"/><circle cx="826.5" cy="853.6" r="5.7"/><circle cx="836.9" cy="851.3" r="5.7"/><circle cx="846.8" cy="849.0" r="5.7"/><circle cx="856.0" cy="846.9" r="5.7"/><circle cx="865.2" cy="844.8" r="5.7"/><circle cx="874.4" cy="842.7" r="5.7"/><circle cx="883.0" cy="840.7" r="5.7"/><circle cx="891.6" cy="838.7" r="5.7"/><circle cx="905.5" cy="835.4" r="5.7"/><circle cx="918.5" cy="832.3" r="5.7"/><circle cx="930.2" cy="829.5" r="5.7"/><circle cx="940.9" cy="826.9" r="5.7"/><circle cx="951.0" cy="824.5" r="5.7"/><circle cx="960.4" cy="822.2" r="5.7"/><circle cx="969.2" cy="820.0" r="5.7"/><circle cx="977.5" cy="817.9" r="5.7"/><circle cx="985.4" cy="816.0" r="5.7"/><circle cx="992.9" cy="814.1" r="5.7"/><circle cx="1000.0" cy="812.3" r="5.7"/><circle cx="1006.8" cy="810.6" r="5.7"/><circle cx="1013.2" cy="809.0" r="5.7"/><circle cx="281.0" cy="1166.0" r="5.7"/><circle cx="337.0" cy="1153.6" r="5.7"/><circle cx="382.0" cy="1141.5" r="5.7"/><circle cx="412.0" cy="1131.0" r="5.7"/><circle cx="441.0" cy="1121.0" r="5.7"/><circle cx="462.0" cy="1111.0" r="5.7"/><circle cx="483.0" cy="1101.7" r="5.7"/><circle cx="499.0" cy="1093.0" r="5.7"/><circle cx="517.0" cy="1085.0" r="5.7"/><circle cx="533.0" cy="1076.4" r="5.7"/><circle cx="551.0" cy="1068.6" r="5.7"/><circle cx="570.6" cy="1062.2" r="5.7"/><circle cx="584.0" cy="1055.0" r="5.7"/><circle cx="595.8" cy="1049.3" r="5.7"/><circle cx="616.0" cy="1042.2" r="5.7"/><circle cx="634.0" cy="1035.0" r="5.7"/><circle cx="643.0" cy="1030.0" r="5.7"/><circle cx="657.4" cy="1023.6" r="5.7"/><circle cx="671.7" cy="1017.8" r="5.7"/><circle cx="683.8" cy="1012.7" r="5.7"/><circle cx="700.4" cy="1007.8" r="5.7"/><circle cx="711.9" cy="1002.0" r="5.7"/><circle cx="725.6" cy="997.8" r="5.7"/><circle cx="739.1" cy="992.0" r="5.7"/><circle cx="750.5" cy="987.7" r="5.7"/><circle cx="762.0" cy="982.9" r="5.7"/><circle cx="772.0" cy="979.1" r="5.7"/><circle cx="784.9" cy="974.3" r="5.7"/><circle cx="796.4" cy="969.1" r="5.7"/><circle cx="805.0" cy="964.8" r="5.7"/><circle cx="816.4" cy="962.0" r="5.7"/><circle cx="826.5" cy="957.6" r="5.7"/><circle cx="837.9" cy="952.8" r="5.7"/><circle cx="849.4" cy="949.0" r="5.7"/><circle cx="858.0" cy="945.6" r="5.7"/><circle cx="868.0" cy="941.0" r="5.7"/><circle cx="877.5" cy="937.6" r="5.7"/><circle cx="888.0" cy="933.3" r="5.7"/><circle cx="905.3" cy="928.4" r="5.7"/><circle cx="918.2" cy="921.8" r="5.7"/><circle cx="929.6" cy="919.0" r="5.7"/><circle cx="939.6" cy="914.7" r="5.7"/><circle cx="949.7" cy="908.9" r="5.7"/><circle cx="951.0" cy="909.3" r="5.7"/><circle cx="960.4" cy="905.8" r="5.7"/><circle cx="969.2" cy="902.6" r="5.7"/><circle cx="977.5" cy="899.5" r="5.7"/><circle cx="985.4" cy="896.7" r="5.7"/><circle cx="992.9" cy="893.9" r="5.7"/><circle cx="1000.0" cy="891.4" r="5.7"/><circle cx="1006.8" cy="888.9" r="5.7"/><circle cx="1013.2" cy="886.6" r="5.7"/></g>
<path d="M1024.0 703.8 L1028.0 703.3 L1032.0 702.8 L1036.0 702.4 L1040.0 701.9 L1044.0 701.4 L1048.0 700.9 L1052.0 700.4 L1056.0 700.0 L1060.0 699.5 L1064.0 699.0 L1068.0 698.5 L1072.0 698.0 L1076.0 697.5 L1080.0 697.1 L1084.0 696.6 L1088.0 696.1 L1092.0 695.6 L1096.0 695.1 L1100.0 694.6 L1104.0 694.1 L1108.0 693.5 L1112.0 693.0 L1116.0 692.5 L1120.0 692.0 L1124.0 691.5 L1128.0 690.9 L1132.0 690.4 L1136.0 689.9 L1140.0 689.3 L1144.0 688.8 L1148.0 688.2 L1152.0 687.7 L1156.0 687.1 L1160.0 686.6 L1164.0 686.0 L1168.0 685.4 L1172.0 684.8 L1176.0 684.3 L1180.0 683.7 L1184.0 683.1 L1188.0 682.5 L1192.0 681.9 L1196.0 681.3 L1200.0 680.6 L1204.0 680.0 L1208.0 679.4 L1212.0 678.7 L1216.0 678.1 L1220.0 677.4 L1224.0 676.8 L1228.0 676.1 L1232.0 675.4 L1236.0 674.8 L1240.0 674.1 L1244.0 673.4 L1248.0 672.7 L1252.0 672.0 L1256.0 671.2 L1260.0 670.5 L1264.0 669.8 L1268.0 669.0 L1272.0 668.3 L1276.0 667.5 L1280.0 666.7 L1284.0 665.9 L1288.0 665.2 L1292.0 664.4 L1296.0 663.5 L1300.0 662.7 L1304.0 661.9 L1308.0 661.1 L1312.0 660.2 L1316.0 659.4 L1320.0 658.5 L1324.0 657.6 L1328.0 656.7 L1332.0 655.8 L1336.0 654.9 L1340.0 654.0 L1344.0 653.1 L1348.0 652.1 L1352.0 651.2 L1356.0 650.2 L1360.0 649.2 L1364.0 648.2 L1368.0 647.2 L1372.0 646.2 L1376.0 645.2 L1380.0 644.1 L1384.0 643.1 L1388.0 642.0 L1392.0 640.9 L1396.0 639.8 L1400.0 638.7 L1404.0 637.6 L1408.0 636.5 L1412.0 635.4 L1416.0 634.2 L1420.0 633.0 L1424.0 631.9 L1428.0 630.7 L1432.0 629.5 L1436.0 628.2 L1440.0 627.0 L1444.0 625.8 L1448.0 624.5 L1452.0 623.2 L1456.0 621.9 L1460.0 620.6 L1464.0 619.3 L1468.0 618.0 L1472.0 616.6 L1476.0 615.3 L1480.0 613.9 L1484.0 612.5 L1488.0 611.1 L1492.0 609.6 L1496.0 608.2 L1500.0 606.8 L1504.0 605.3 L1508.0 603.8 L1512.0 602.3 L1516.0 600.8 L1520.0 599.3 L1524.0 597.7 L1528.0 596.2 L1532.0 594.6 L1536.0 593.0 L1540.0 591.4 L1544.0 589.7 L1548.0 588.1 L1552.0 586.4 L1556.0 584.8 L1560.0 583.1 L1564.0 581.4 L1568.0 579.6 L1572.0 577.9 L1576.0 576.1 L1580.0 574.4 L1584.0 572.6 L1588.0 570.8 L1592.0 568.9 L1596.0 567.1 L1600.0 565.2 L1604.0 563.3 L1608.0 561.5 L1612.0 559.5 L1616.0 557.6 L1620.0 555.6 L1624.0 553.7 L1628.0 551.7 L1632.0 549.7 L1636.0 547.7 L1640.0 545.6 L1644.0 543.6 L1648.0 541.5 L1652.0 539.4 L1656.0 537.3 L1660.0 535.1 L1664.0 533.0 L1668.0 530.8 L1672.0 528.6 L1676.0 526.4 L1680.0 524.1 L1684.0 521.9 L1688.0 519.6 L1692.0 517.3 L1696.0 515.0 L1700.0 512.7 L1704.0 510.3 L1708.0 508.0 L1712.0 505.6 L1716.0 503.1 L1720.0 500.7 L1724.0 498.3 L1728.0 495.8 L1732.0 493.3 L1736.0 490.8 L1740.0 488.2 L1744.0 485.7 L1748.0 483.1 L1752.0 480.5 L1756.0 477.9 L1760.0 475.3 L1764.0 472.6 L1768.0 469.9 L1772.0 467.2 L1776.0 464.5 L1780.0 461.8 L1784.0 459.0 L1788.0 456.2 L1792.0 453.4 L1796.0 450.6 L1800.0 447.8 L1804.0 444.9 L1808.0 442.0 L1812.0 439.1 L1816.0 436.2 L1820.0 433.2 L1824.0 430.3 L1828.0 427.3 L1832.0 424.3 L1836.0 421.2 L1840.0 418.2 L1844.0 415.1 L1848.0 412.0 L1850.0 410.4 M1024.0 717.7 L1028.0 717.2 L1032.0 716.6 L1036.0 716.1 L1040.0 715.6 L1044.0 715.0 L1048.0 714.5 L1052.0 714.0 L1056.0 713.4 L1060.0 712.9 L1064.0 712.4 L1068.0 711.8 L1072.0 711.3 L1076.0 710.7 L1080.0 710.2 L1084.0 709.6 L1088.0 709.1 L1092.0 708.5 L1096.0 707.9 L1100.0 707.4 L1104.0 706.8 L1108.0 706.3 L1112.0 705.7 L1116.0 705.1 L1120.0 704.5 L1124.0 704.0 L1128.0 703.4 L1132.0 702.8 L1136.0 702.2 L1140.0 701.6 L1144.0 701.0 L1148.0 700.4 L1152.0 699.7 L1156.0 699.1 L1160.0 698.5 L1164.0 697.8 L1168.0 697.2 L1172.0 696.5 L1176.0 695.8 L1180.0 695.2 L1184.0 694.5 L1188.0 693.8 L1192.0 693.1 L1196.0 692.4 L1200.0 691.7 L1204.0 691.0 L1208.0 690.2 L1212.0 689.5 L1216.0 688.8 L1220.0 688.0 L1224.0 687.3 L1228.0 686.5 L1232.0 685.8 L1236.0 685.0 L1240.0 684.2 L1244.0 683.4 L1248.0 682.6 L1252.0 681.8 L1256.0 681.0 L1260.0 680.1 L1264.0 679.3 L1268.0 678.5 L1272.0 677.6 L1276.0 676.7 L1280.0 675.8 L1284.0 674.9 L1288.0 674.0 L1292.0 673.1 L1296.0 672.2 L1300.0 671.3 L1304.0 670.3 L1308.0 669.4 L1312.0 668.4 L1316.0 667.4 L1320.0 666.5 L1324.0 665.5 L1328.0 664.5 L1332.0 663.5 L1336.0 662.5 L1340.0 661.4 L1344.0 660.4 L1348.0 659.4 L1352.0 658.3 L1356.0 657.3 L1360.0 656.2 L1364.0 655.1 L1368.0 654.0 L1372.0 652.9 L1376.0 651.8 L1380.0 650.7 L1384.0 649.6 L1388.0 648.4 L1392.0 647.3 L1396.0 646.2 L1400.0 645.0 L1404.0 643.8 L1408.0 642.6 L1412.0 641.4 L1416.0 640.2 L1420.0 639.0 L1424.0 637.8 L1428.0 636.5 L1432.0 635.3 L1436.0 634.0 L1440.0 632.7 L1444.0 631.4 L1448.0 630.1 L1452.0 628.7 L1456.0 627.4 L1460.0 626.0 L1464.0 624.7 L1468.0 623.3 L1472.0 621.9 L1476.0 620.5 L1480.0 619.0 L1484.0 617.6 L1488.0 616.1 L1492.0 614.7 L1496.0 613.2 L1500.0 611.7 L1504.0 610.2 L1508.0 608.6 L1512.0 607.1 L1516.0 605.5 L1520.0 603.9 L1524.0 602.3 L1528.0 600.7 L1532.0 599.1 L1536.0 597.5 L1540.0 595.8 L1544.0 594.1 L1548.0 592.5 L1552.0 590.8 L1556.0 589.0 L1560.0 587.3 L1564.0 585.5 L1568.0 583.8 L1572.0 582.0 L1576.0 580.2 L1580.0 578.4 L1584.0 576.5 L1588.0 574.7 L1592.0 572.8 L1596.0 570.9 L1600.0 569.0 L1604.0 567.1 L1608.0 565.1 L1612.0 563.2 L1616.0 561.2 L1620.0 559.2 L1624.0 557.2 L1628.0 555.2 L1632.0 553.1 L1636.0 551.0 L1640.0 549.0 L1644.0 546.9 L1648.0 544.7 L1652.0 542.6 L1656.0 540.4 L1660.0 538.2 L1664.0 536.0 L1668.0 533.8 L1672.0 531.6 L1676.0 529.3 L1680.0 527.0 L1684.0 524.7 L1688.0 522.4 L1692.0 520.1 L1696.0 517.7 L1700.0 515.4 L1704.0 513.0 L1708.0 510.5 L1712.0 508.1 L1716.0 505.6 L1720.0 503.1 L1724.0 500.6 L1728.0 498.1 L1732.0 495.6 L1736.0 493.0 L1740.0 490.4 L1744.0 487.8 L1748.0 485.2 L1752.0 482.5 L1756.0 479.8 L1760.0 477.1 L1764.0 474.4 L1768.0 471.7 L1772.0 468.9 L1776.0 466.1 L1780.0 463.3 L1784.0 460.5 L1788.0 457.6 L1792.0 454.7 L1796.0 451.8 L1800.0 448.9 L1804.0 446.0 L1808.0 443.0 L1812.0 440.0 L1816.0 437.0 L1820.0 433.9 L1824.0 430.9 L1828.0 427.8 L1832.0 424.6 L1836.0 421.5 L1840.0 418.3 L1844.0 415.1 L1848.0 411.9 L1850.0 410.3 M1024.0 720.4 L1028.0 719.9 L1032.0 719.3 L1036.0 718.8 L1040.0 718.2 L1044.0 717.7 L1048.0 717.1 L1052.0 716.6 L1056.0 716.0 L1060.0 715.5 L1064.0 714.9 L1068.0 714.4 L1072.0 713.8 L1076.0 713.3 L1080.0 712.7 L1084.0 712.1 L1088.0 711.6 L1092.0 711.0 L1096.0 710.4 L1100.0 709.9 L1104.0 709.3 L1108.0 708.7 L1112.0 708.1 L1116.0 707.6 L1120.0 707.0 L1124.0 706.4 L1128.0 705.8 L1132.0 705.2 L1136.0 704.6 L1140.0 704.0 L1144.0 703.3 L1148.0 702.7 L1152.0 702.1 L1156.0 701.4 L1160.0 700.8 L1164.0 700.1 L1168.0 699.5 L1172.0 698.8 L1176.0 698.1 L1180.0 697.5 L1184.0 696.8 L1188.0 696.1 L1192.0 695.4 L1196.0 694.7 L1200.0 694.0 L1204.0 693.2 L1208.0 692.5 L1212.0 691.8 L1216.0 691.1 L1220.0 690.3 L1224.0 689.6 L1228.0 688.8 L1232.0 688.0 L1236.0 687.3 L1240.0 686.5 L1244.0 685.7 L1248.0 684.9 L1252.0 684.1 L1256.0 683.2 L1260.0 682.4 L1264.0 681.6 L1268.0 680.7 L1272.0 679.8 L1276.0 679.0 L1280.0 678.1 L1284.0 677.2 L1288.0 676.3 L1292.0 675.4 L1296.0 674.5 L1300.0 673.5 L1304.0 672.6 L1308.0 671.6 L1312.0 670.7 L1316.0 669.7 L1320.0 668.7 L1324.0 667.7 L1328.0 666.8 L1332.0 665.7 L1336.0 664.7 L1340.0 663.7 L1344.0 662.7 L1348.0 661.6 L1352.0 660.6 L1356.0 659.5 L1360.0 658.4 L1364.0 657.4 L1368.0 656.3 L1372.0 655.2 L1376.0 654.1 L1380.0 652.9 L1384.0 651.8 L1388.0 650.7 L1392.0 649.5 L1396.0 648.4 L1400.0 647.2 L1404.0 646.0 L1408.0 644.8 L1412.0 643.6 L1416.0 642.4 L1420.0 641.2 L1424.0 639.9 L1428.0 638.7 L1432.0 637.4 L1436.0 636.1 L1440.0 634.8 L1444.0 633.5 L1448.0 632.2 L1452.0 630.8 L1456.0 629.5 L1460.0 628.1 L1464.0 626.7 L1468.0 625.3 L1472.0 623.9 L1476.0 622.5 L1480.0 621.1 L1484.0 619.6 L1488.0 618.1 L1492.0 616.6 L1496.0 615.1 L1500.0 613.6 L1504.0 612.1 L1508.0 610.6 L1512.0 609.0 L1516.0 607.4 L1520.0 605.8 L1524.0 604.2 L1528.0 602.6 L1532.0 601.0 L1536.0 599.3 L1540.0 597.6 L1544.0 596.0 L1548.0 594.3 L1552.0 592.5 L1556.0 590.8 L1560.0 589.1 L1564.0 587.3 L1568.0 585.5 L1572.0 583.7 L1576.0 581.9 L1580.0 580.0 L1584.0 578.2 L1588.0 576.3 L1592.0 574.4 L1596.0 572.5 L1600.0 570.6 L1604.0 568.7 L1608.0 566.7 L1612.0 564.7 L1616.0 562.7 L1620.0 560.7 L1624.0 558.7 L1628.0 556.6 L1632.0 554.6 L1636.0 552.5 L1640.0 550.4 L1644.0 548.2 L1648.0 546.1 L1652.0 543.9 L1656.0 541.7 L1660.0 539.5 L1664.0 537.3 L1668.0 535.1 L1672.0 532.8 L1676.0 530.5 L1680.0 528.2 L1684.0 525.9 L1688.0 523.6 L1692.0 521.2 L1696.0 518.8 L1700.0 516.4 L1704.0 514.0 L1708.0 511.5 L1712.0 509.1 L1716.0 506.6 L1720.0 504.1 L1724.0 501.5 L1728.0 499.0 L1732.0 496.4 L1736.0 493.8 L1740.0 491.2 L1744.0 488.6 L1748.0 485.9 L1752.0 483.2 L1756.0 480.5 L1760.0 477.8 L1764.0 475.0 L1768.0 472.3 L1772.0 469.5 L1776.0 466.6 L1780.0 463.8 L1784.0 460.9 L1788.0 458.1 L1792.0 455.1 L1796.0 452.2 L1800.0 449.3 L1804.0 446.3 L1808.0 443.3 L1812.0 440.2 L1816.0 437.2 L1820.0 434.1 L1824.0 431.0 L1828.0 427.9 L1832.0 424.7 L1836.0 421.6 L1840.0 418.4 L1844.0 415.1 L1848.0 411.9 L1850.0 410.3 M1024.0 723.1 L1028.0 722.6 L1032.0 722.0 L1036.0 721.5 L1040.0 720.9 L1044.0 720.3 L1048.0 719.8 L1052.0 719.2 L1056.0 718.7 L1060.0 718.1 L1064.0 717.5 L1068.0 717.0 L1072.0 716.4 L1076.0 715.8 L1080.0 715.2 L1084.0 714.7 L1088.0 714.1 L1092.0 713.5 L1096.0 712.9 L1100.0 712.4 L1104.0 711.8 L1108.0 711.2 L1112.0 710.6 L1116.0 710.0 L1120.0 709.4 L1124.0 708.8 L1128.0 708.2 L1132.0 707.6 L1136.0 707.0 L1140.0 706.3 L1144.0 705.7 L1148.0 705.1 L1152.0 704.4 L1156.0 703.8 L1160.0 703.1 L1164.0 702.5 L1168.0 701.8 L1172.0 701.1 L1176.0 700.5 L1180.0 699.8 L1184.0 699.1 L1188.0 698.4 L1192.0 697.7 L1196.0 697.0 L1200.0 696.3 L1204.0 695.5 L1208.0 694.8 L1212.0 694.1 L1216.0 693.3 L1220.0 692.6 L1224.0 691.8 L1228.0 691.1 L1232.0 690.3 L1236.0 689.5 L1240.0 688.7 L1244.0 687.9 L1248.0 687.1 L1252.0 686.3 L1256.0 685.5 L1260.0 684.7 L1264.0 683.8 L1268.0 683.0 L1272.0 682.1 L1276.0 681.2 L1280.0 680.3 L1284.0 679.4 L1288.0 678.5 L1292.0 677.6 L1296.0 676.7 L1300.0 675.8 L1304.0 674.8 L1308.0 673.9 L1312.0 672.9 L1316.0 672.0 L1320.0 671.0 L1324.0 670.0 L1328.0 669.0 L1332.0 668.0 L1336.0 667.0 L1340.0 666.0 L1344.0 664.9 L1348.0 663.9 L1352.0 662.8 L1356.0 661.8 L1360.0 660.7 L1364.0 659.6 L1368.0 658.5 L1372.0 657.4 L1376.0 656.3 L1380.0 655.2 L1384.0 654.0 L1388.0 652.9 L1392.0 651.7 L1396.0 650.6 L1400.0 649.4 L1404.0 648.2 L1408.0 647.0 L1412.0 645.8 L1416.0 644.6 L1420.0 643.3 L1424.0 642.1 L1428.0 640.8 L1432.0 639.5 L1436.0 638.2 L1440.0 636.9 L1444.0 635.6 L1448.0 634.3 L1452.0 632.9 L1456.0 631.6 L1460.0 630.2 L1464.0 628.8 L1468.0 627.4 L1472.0 626.0 L1476.0 624.5 L1480.0 623.1 L1484.0 621.6 L1488.0 620.1 L1492.0 618.6 L1496.0 617.1 L1500.0 615.6 L1504.0 614.1 L1508.0 612.5 L1512.0 610.9 L1516.0 609.3 L1520.0 607.7 L1524.0 606.1 L1528.0 604.5 L1532.0 602.8 L1536.0 601.2 L1540.0 599.5 L1544.0 597.8 L1548.0 596.1 L1552.0 594.3 L1556.0 592.6 L1560.0 590.8 L1564.0 589.0 L1568.0 587.2 L1572.0 585.4 L1576.0 583.6 L1580.0 581.7 L1584.0 579.9 L1588.0 578.0 L1592.0 576.1 L1596.0 574.1 L1600.0 572.2 L1604.0 570.2 L1608.0 568.3 L1612.0 566.3 L1616.0 564.2 L1620.0 562.2 L1624.0 560.2 L1628.0 558.1 L1632.0 556.0 L1636.0 553.9 L1640.0 551.8 L1644.0 549.6 L1648.0 547.4 L1652.0 545.3 L1656.0 543.1 L1660.0 540.8 L1664.0 538.6 L1668.0 536.3 L1672.0 534.0 L1676.0 531.7 L1680.0 529.4 L1684.0 527.0 L1688.0 524.7 L1692.0 522.3 L1696.0 519.9 L1700.0 517.4 L1704.0 515.0 L1708.0 512.5 L1712.0 510.0 L1716.0 507.5 L1720.0 505.0 L1724.0 502.4 L1728.0 499.8 L1732.0 497.2 L1736.0 494.6 L1740.0 492.0 L1744.0 489.3 L1748.0 486.6 L1752.0 483.9 L1756.0 481.2 L1760.0 478.4 L1764.0 475.6 L1768.0 472.8 L1772.0 470.0 L1776.0 467.2 L1780.0 464.3 L1784.0 461.4 L1788.0 458.5 L1792.0 455.6 L1796.0 452.6 L1800.0 449.6 L1804.0 446.6 L1808.0 443.6 L1812.0 440.5 L1816.0 437.4 L1820.0 434.3 L1824.0 431.2 L1828.0 428.0 L1832.0 424.8 L1836.0 421.6 L1840.0 418.4 L1844.0 415.2 L1848.0 411.9 L1850.0 410.2 M1024.0 725.8 L1028.0 725.3 L1032.0 724.7 L1036.0 724.1 L1040.0 723.6 L1044.0 723.0 L1048.0 722.4 L1052.0 721.8 L1056.0 721.3 L1060.0 720.7 L1064.0 720.1 L1068.0 719.5 L1072.0 719.0 L1076.0 718.4 L1080.0 717.8 L1084.0 717.2 L1088.0 716.6 L1092.0 716.0 L1096.0 715.4 L1100.0 714.8 L1104.0 714.2 L1108.0 713.6 L1112.0 713.0 L1116.0 712.4 L1120.0 711.8 L1124.0 711.2 L1128.0 710.6 L1132.0 710.0 L1136.0 709.4 L1140.0 708.7 L1144.0 708.1 L1148.0 707.5 L1152.0 706.8 L1156.0 706.1 L1160.0 705.5 L1164.0 704.8 L1168.0 704.2 L1172.0 703.5 L1176.0 702.8 L1180.0 702.1 L1184.0 701.4 L1188.0 700.7 L1192.0 700.0 L1196.0 699.3 L1200.0 698.6 L1204.0 697.8 L1208.0 697.1 L1212.0 696.4 L1216.0 695.6 L1220.0 694.9 L1224.0 694.1 L1228.0 693.3 L1232.0 692.6 L1236.0 691.8 L1240.0 691.0 L1244.0 690.2 L1248.0 689.4 L1252.0 688.6 L1256.0 687.7 L1260.0 686.9 L1264.0 686.1 L1268.0 685.2 L1272.0 684.3 L1276.0 683.5 L1280.0 682.6 L1284.0 681.7 L1288.0 680.8 L1292.0 679.9 L1296.0 679.0 L1300.0 678.0 L1304.0 677.1 L1308.0 676.2 L1312.0 675.2 L1316.0 674.2 L1320.0 673.3 L1324.0 672.3 L1328.0 671.3 L1332.0 670.3 L1336.0 669.3 L1340.0 668.2 L1344.0 667.2 L1348.0 666.2 L1352.0 665.1 L1356.0 664.0 L1360.0 663.0 L1364.0 661.9 L1368.0 660.8 L1372.0 659.7 L1376.0 658.5 L1380.0 657.4 L1384.0 656.3 L1388.0 655.1 L1392.0 654.0 L1396.0 652.8 L1400.0 651.6 L1404.0 650.4 L1408.0 649.2 L1412.0 648.0 L1416.0 646.7 L1420.0 645.5 L1424.0 644.2 L1428.0 643.0 L1432.0 641.7 L1436.0 640.4 L1440.0 639.0 L1444.0 637.7 L1448.0 636.4 L1452.0 635.0 L1456.0 633.6 L1460.0 632.2 L1464.0 630.8 L1468.0 629.4 L1472.0 628.0 L1476.0 626.6 L1480.0 625.1 L1484.0 623.6 L1488.0 622.1 L1492.0 620.6 L1496.0 619.1 L1500.0 617.6 L1504.0 616.0 L1508.0 614.4 L1512.0 612.9 L1516.0 611.3 L1520.0 609.6 L1524.0 608.0 L1528.0 606.4 L1532.0 604.7 L1536.0 603.0 L1540.0 601.3 L1544.0 599.6 L1548.0 597.9 L1552.0 596.1 L1556.0 594.4 L1560.0 592.6 L1564.0 590.8 L1568.0 589.0 L1572.0 587.1 L1576.0 585.3 L1580.0 583.4 L1584.0 581.5 L1588.0 579.6 L1592.0 577.7 L1596.0 575.7 L1600.0 573.8 L1604.0 571.8 L1608.0 569.8 L1612.0 567.8 L1616.0 565.8 L1620.0 563.7 L1624.0 561.6 L1628.0 559.5 L1632.0 557.4 L1636.0 555.3 L1640.0 553.2 L1644.0 551.0 L1648.0 548.8 L1652.0 546.6 L1656.0 544.4 L1660.0 542.1 L1664.0 539.8 L1668.0 537.6 L1672.0 535.2 L1676.0 532.9 L1680.0 530.6 L1684.0 528.2 L1688.0 525.8 L1692.0 523.4 L1696.0 521.0 L1700.0 518.5 L1704.0 516.0 L1708.0 513.5 L1712.0 511.0 L1716.0 508.5 L1720.0 505.9 L1724.0 503.3 L1728.0 500.7 L1732.0 498.1 L1736.0 495.4 L1740.0 492.8 L1744.0 490.1 L1748.0 487.3 L1752.0 484.6 L1756.0 481.8 L1760.0 479.1 L1764.0 476.3 L1768.0 473.4 L1772.0 470.6 L1776.0 467.7 L1780.0 464.8 L1784.0 461.9 L1788.0 458.9 L1792.0 456.0 L1796.0 453.0 L1800.0 449.9 L1804.0 446.9 L1808.0 443.8 L1812.0 440.8 L1816.0 437.6 L1820.0 434.5 L1824.0 431.3 L1828.0 428.2 L1832.0 425.0 L1836.0 421.7 L1840.0 418.5 L1844.0 415.2 L1848.0 411.9 L1850.0 410.2 M1024.0 728.5 L1028.0 727.9 L1032.0 727.4 L1036.0 726.8 L1040.0 726.2 L1044.0 725.6 L1048.0 725.0 L1052.0 724.5 L1056.0 723.9 L1060.0 723.3 L1064.0 722.7 L1068.0 722.1 L1072.0 721.5 L1076.0 720.9 L1080.0 720.3 L1084.0 719.7 L1088.0 719.1 L1092.0 718.5 L1096.0 717.9 L1100.0 717.3 L1104.0 716.7 L1108.0 716.1 L1112.0 715.5 L1116.0 714.9 L1120.0 714.3 L1124.0 713.6 L1128.0 713.0 L1132.0 712.4 L1136.0 711.7 L1140.0 711.1 L1144.0 710.5 L1148.0 709.8 L1152.0 709.2 L1156.0 708.5 L1160.0 707.8 L1164.0 707.2 L1168.0 706.5 L1172.0 705.8 L1176.0 705.1 L1180.0 704.4 L1184.0 703.7 L1188.0 703.0 L1192.0 702.3 L1196.0 701.6 L1200.0 700.9 L1204.0 700.1 L1208.0 699.4 L1212.0 698.6 L1216.0 697.9 L1220.0 697.1 L1224.0 696.4 L1228.0 695.6 L1232.0 694.8 L1236.0 694.1 L1240.0 693.3 L1244.0 692.5 L1248.0 691.6 L1252.0 690.8 L1256.0 690.0 L1260.0 689.2 L1264.0 688.3 L1268.0 687.5 L1272.0 686.6 L1276.0 685.7 L1280.0 684.9 L1284.0 684.0 L1288.0 683.1 L1292.0 682.2 L1296.0 681.2 L1300.0 680.3 L1304.0 679.4 L1308.0 678.4 L1312.0 677.5 L1316.0 676.5 L1320.0 675.5 L1324.0 674.5 L1328.0 673.5 L1332.0 672.5 L1336.0 671.5 L1340.0 670.5 L1344.0 669.5 L1348.0 668.4 L1352.0 667.4 L1356.0 666.3 L1360.0 665.2 L1364.0 664.1 L1368.0 663.0 L1372.0 661.9 L1376.0 660.8 L1380.0 659.7 L1384.0 658.5 L1388.0 657.3 L1392.0 656.2 L1396.0 655.0 L1400.0 653.8 L1404.0 652.6 L1408.0 651.4 L1412.0 650.2 L1416.0 648.9 L1420.0 647.7 L1424.0 646.4 L1428.0 645.1 L1432.0 643.8 L1436.0 642.5 L1440.0 641.2 L1444.0 639.8 L1448.0 638.5 L1452.0 637.1 L1456.0 635.7 L1460.0 634.3 L1464.0 632.9 L1468.0 631.5 L1472.0 630.0 L1476.0 628.6 L1480.0 627.1 L1484.0 625.6 L1488.0 624.1 L1492.0 622.6 L1496.0 621.1 L1500.0 619.5 L1504.0 618.0 L1508.0 616.4 L1512.0 614.8 L1516.0 613.2 L1520.0 611.5 L1524.0 609.9 L1528.0 608.2 L1532.0 606.6 L1536.0 604.9 L1540.0 603.2 L1544.0 601.4 L1548.0 599.7 L1552.0 597.9 L1556.0 596.1 L1560.0 594.3 L1564.0 592.5 L1568.0 590.7 L1572.0 588.8 L1576.0 587.0 L1580.0 585.1 L1584.0 583.2 L1588.0 581.3 L1592.0 579.3 L1596.0 577.4 L1600.0 575.4 L1604.0 573.4 L1608.0 571.4 L1612.0 569.3 L1616.0 567.3 L1620.0 565.2 L1624.0 563.1 L1628.0 561.0 L1632.0 558.9 L1636.0 556.7 L1640.0 554.6 L1644.0 552.4 L1648.0 550.2 L1652.0 547.9 L1656.0 545.7 L1660.0 543.4 L1664.0 541.1 L1668.0 538.8 L1672.0 536.5 L1676.0 534.1 L1680.0 531.7 L1684.0 529.3 L1688.0 526.9 L1692.0 524.5 L1696.0 522.0 L1700.0 519.5 L1704.0 517.0 L1708.0 514.5 L1712.0 512.0 L1716.0 509.4 L1720.0 506.8 L1724.0 504.2 L1728.0 501.6 L1732.0 498.9 L1736.0 496.2 L1740.0 493.5 L1744.0 490.8 L1748.0 488.1 L1752.0 485.3 L1756.0 482.5 L1760.0 479.7 L1764.0 476.9 L1768.0 474.0 L1772.0 471.1 L1776.0 468.2 L1780.0 465.3 L1784.0 462.3 L1788.0 459.4 L1792.0 456.4 L1796.0 453.3 L1800.0 450.3 L1804.0 447.2 L1808.0 444.1 L1812.0 441.0 L1816.0 437.9 L1820.0 434.7 L1824.0 431.5 L1828.0 428.3 L1832.0 425.1 L1836.0 421.8 L1840.0 418.5 L1844.0 415.2 L1848.0 411.8 L1850.0 410.2 M1024.0 731.2 L1028.0 730.6 L1032.0 730.0 L1036.0 729.5 L1040.0 728.9 L1044.0 728.3 L1048.0 727.7 L1052.0 727.1 L1056.0 726.5 L1060.0 725.9 L1064.0 725.3 L1068.0 724.7 L1072.0 724.1 L1076.0 723.5 L1080.0 722.9 L1084.0 722.3 L1088.0 721.7 L1092.0 721.0 L1096.0 720.4 L1100.0 719.8 L1104.0 719.2 L1108.0 718.6 L1112.0 718.0 L1116.0 717.3 L1120.0 716.7 L1124.0 716.1 L1128.0 715.4 L1132.0 714.8 L1136.0 714.1 L1140.0 713.5 L1144.0 712.8 L1148.0 712.2 L1152.0 711.5 L1156.0 710.8 L1160.0 710.2 L1164.0 709.5 L1168.0 708.8 L1172.0 708.1 L1176.0 707.4 L1180.0 706.7 L1184.0 706.0 L1188.0 705.3 L1192.0 704.6 L1196.0 703.9 L1200.0 703.2 L1204.0 702.4 L1208.0 701.7 L1212.0 700.9 L1216.0 700.2 L1220.0 699.4 L1224.0 698.7 L1228.0 697.9 L1232.0 697.1 L1236.0 696.3 L1240.0 695.5 L1244.0 694.7 L1248.0 693.9 L1252.0 693.1 L1256.0 692.3 L1260.0 691.4 L1264.0 690.6 L1268.0 689.7 L1272.0 688.9 L1276.0 688.0 L1280.0 687.1 L1284.0 686.2 L1288.0 685.3 L1292.0 684.4 L1296.0 683.5 L1300.0 682.6 L1304.0 681.6 L1308.0 680.7 L1312.0 679.7 L1316.0 678.8 L1320.0 677.8 L1324.0 676.8 L1328.0 675.8 L1332.0 674.8 L1336.0 673.8 L1340.0 672.8 L1344.0 671.7 L1348.0 670.7 L1352.0 669.6 L1356.0 668.5 L1360.0 667.5 L1364.0 666.4 L1368.0 665.3 L1372.0 664.2 L1376.0 663.0 L1380.0 661.9 L1384.0 660.7 L1388.0 659.6 L1392.0 658.4 L1396.0 657.2 L1400.0 656.0 L1404.0 654.8 L1408.0 653.6 L1412.0 652.3 L1416.0 651.1 L1420.0 649.8 L1424.0 648.5 L1428.0 647.2 L1432.0 645.9 L1436.0 644.6 L1440.0 643.3 L1444.0 641.9 L1448.0 640.6 L1452.0 639.2 L1456.0 637.8 L1460.0 636.4 L1464.0 635.0 L1468.0 633.5 L1472.0 632.1 L1476.0 630.6 L1480.0 629.1 L1484.0 627.6 L1488.0 626.1 L1492.0 624.6 L1496.0 623.0 L1500.0 621.5 L1504.0 619.9 L1508.0 618.3 L1512.0 616.7 L1516.0 615.1 L1520.0 613.4 L1524.0 611.8 L1528.0 610.1 L1532.0 608.4 L1536.0 606.7 L1540.0 605.0 L1544.0 603.2 L1548.0 601.5 L1552.0 599.7 L1556.0 597.9 L1560.0 596.1 L1564.0 594.3 L1568.0 592.4 L1572.0 590.6 L1576.0 588.7 L1580.0 586.8 L1584.0 584.8 L1588.0 582.9 L1592.0 580.9 L1596.0 579.0 L1600.0 577.0 L1604.0 575.0 L1608.0 572.9 L1612.0 570.9 L1616.0 568.8 L1620.0 566.7 L1624.0 564.6 L1628.0 562.5 L1632.0 560.3 L1636.0 558.1 L1640.0 556.0 L1644.0 553.7 L1648.0 551.5 L1652.0 549.3 L1656.0 547.0 L1660.0 544.7 L1664.0 542.4 L1668.0 540.0 L1672.0 537.7 L1676.0 535.3 L1680.0 532.9 L1684.0 530.5 L1688.0 528.0 L1692.0 525.6 L1696.0 523.1 L1700.0 520.6 L1704.0 518.1 L1708.0 515.5 L1712.0 512.9 L1716.0 510.4 L1720.0 507.7 L1724.0 505.1 L1728.0 502.4 L1732.0 499.8 L1736.0 497.1 L1740.0 494.3 L1744.0 491.6 L1748.0 488.8 L1752.0 486.0 L1756.0 483.2 L1760.0 480.3 L1764.0 477.5 L1768.0 474.6 L1772.0 471.7 L1776.0 468.7 L1780.0 465.8 L1784.0 462.8 L1788.0 459.8 L1792.0 456.8 L1796.0 453.7 L1800.0 450.6 L1804.0 447.5 L1808.0 444.4 L1812.0 441.3 L1816.0 438.1 L1820.0 434.9 L1824.0 431.7 L1828.0 428.4 L1832.0 425.2 L1836.0 421.9 L1840.0 418.5 L1844.0 415.2 L1848.0 411.8 L1850.0 410.1 M1024.0 733.9 L1028.0 733.3 L1032.0 732.7 L1036.0 732.1 L1040.0 731.5 L1044.0 730.9 L1048.0 730.3 L1052.0 729.7 L1056.0 729.1 L1060.0 728.5 L1064.0 727.9 L1068.0 727.3 L1072.0 726.6 L1076.0 726.0 L1080.0 725.4 L1084.0 724.8 L1088.0 724.2 L1092.0 723.6 L1096.0 722.9 L1100.0 722.3 L1104.0 721.7 L1108.0 721.0 L1112.0 720.4 L1116.0 719.8 L1120.0 719.1 L1124.0 718.5 L1128.0 717.8 L1132.0 717.2 L1136.0 716.5 L1140.0 715.9 L1144.0 715.2 L1148.0 714.5 L1152.0 713.9 L1156.0 713.2 L1160.0 712.5 L1164.0 711.8 L1168.0 711.1 L1172.0 710.5 L1176.0 709.8 L1180.0 709.0 L1184.0 708.3 L1188.0 707.6 L1192.0 706.9 L1196.0 706.2 L1200.0 705.4 L1204.0 704.7 L1208.0 704.0 L1212.0 703.2 L1216.0 702.5 L1220.0 701.7 L1224.0 700.9 L1228.0 700.2 L1232.0 699.4 L1236.0 698.6 L1240.0 697.8 L1244.0 697.0 L1248.0 696.2 L1252.0 695.3 L1256.0 694.5 L1260.0 693.7 L1264.0 692.8 L1268.0 692.0 L1272.0 691.1 L1276.0 690.2 L1280.0 689.4 L1284.0 688.5 L1288.0 687.6 L1292.0 686.7 L1296.0 685.8 L1300.0 684.8 L1304.0 683.9 L1308.0 683.0 L1312.0 682.0 L1316.0 681.0 L1320.0 680.1 L1324.0 679.1 L1328.0 678.1 L1332.0 677.1 L1336.0 676.1 L1340.0 675.0 L1344.0 674.0 L1348.0 672.9 L1352.0 671.9 L1356.0 670.8 L1360.0 669.7 L1364.0 668.6 L1368.0 667.5 L1372.0 666.4 L1376.0 665.3 L1380.0 664.1 L1384.0 663.0 L1388.0 661.8 L1392.0 660.6 L1396.0 659.4 L1400.0 658.2 L1404.0 657.0 L1408.0 655.8 L1412.0 654.5 L1416.0 653.3 L1420.0 652.0 L1424.0 650.7 L1428.0 649.4 L1432.0 648.1 L1436.0 646.7 L1440.0 645.4 L1444.0 644.0 L1448.0 642.7 L1452.0 641.3 L1456.0 639.9 L1460.0 638.5 L1464.0 637.0 L1468.0 635.6 L1472.0 634.1 L1476.0 632.6 L1480.0 631.1 L1484.0 629.6 L1488.0 628.1 L1492.0 626.6 L1496.0 625.0 L1500.0 623.4 L1504.0 621.9 L1508.0 620.3 L1512.0 618.6 L1516.0 617.0 L1520.0 615.3 L1524.0 613.7 L1528.0 612.0 L1532.0 610.3 L1536.0 608.6 L1540.0 606.8 L1544.0 605.1 L1548.0 603.3 L1552.0 601.5 L1556.0 599.7 L1560.0 597.9 L1564.0 596.0 L1568.0 594.1 L1572.0 592.3 L1576.0 590.4 L1580.0 588.4 L1584.0 586.5 L1588.0 584.6 L1592.0 582.6 L1596.0 580.6 L1600.0 578.6 L1604.0 576.5 L1608.0 574.5 L1612.0 572.4 L1616.0 570.3 L1620.0 568.2 L1624.0 566.1 L1628.0 563.9 L1632.0 561.8 L1636.0 559.6 L1640.0 557.3 L1644.0 555.1 L1648.0 552.9 L1652.0 550.6 L1656.0 548.3 L1660.0 546.0 L1664.0 543.6 L1668.0 541.3 L1672.0 538.9 L1676.0 536.5 L1680.0 534.1 L1684.0 531.6 L1688.0 529.2 L1692.0 526.7 L1696.0 524.2 L1700.0 521.6 L1704.0 519.1 L1708.0 516.5 L1712.0 513.9 L1716.0 511.3 L1720.0 508.7 L1724.0 506.0 L1728.0 503.3 L1732.0 500.6 L1736.0 497.9 L1740.0 495.1 L1744.0 492.3 L1748.0 489.5 L1752.0 486.7 L1756.0 483.9 L1760.0 481.0 L1764.0 478.1 L1768.0 475.2 L1772.0 472.2 L1776.0 469.3 L1780.0 466.3 L1784.0 463.3 L1788.0 460.2 L1792.0 457.2 L1796.0 454.1 L1800.0 451.0 L1804.0 447.9 L1808.0 444.7 L1812.0 441.5 L1816.0 438.3 L1820.0 435.1 L1824.0 431.8 L1828.0 428.6 L1832.0 425.3 L1836.0 421.9 L1840.0 418.6 L1844.0 415.2 L1848.0 411.8 L1850.0 410.1 M1024.0 742.3 L1028.0 741.7 L1032.0 741.0 L1036.0 740.4 L1040.0 739.7 L1044.0 739.1 L1048.0 738.5 L1052.0 737.8 L1056.0 737.2 L1060.0 736.5 L1064.0 735.9 L1068.0 735.2 L1072.0 734.6 L1076.0 733.9 L1080.0 733.3 L1084.0 732.6 L1088.0 732.0 L1092.0 731.3 L1096.0 730.7 L1100.0 730.0 L1104.0 729.3 L1108.0 728.7 L1112.0 728.0 L1116.0 727.3 L1120.0 726.7 L1124.0 726.0 L1128.0 725.3 L1132.0 724.6 L1136.0 723.9 L1140.0 723.2 L1144.0 722.5 L1148.0 721.8 L1152.0 721.1 L1156.0 720.4 L1160.0 719.7 L1164.0 719.0 L1168.0 718.3 L1172.0 717.6 L1176.0 716.8 L1180.0 716.1 L1184.0 715.3 L1188.0 714.6 L1192.0 713.9 L1196.0 713.1 L1200.0 712.3 L1204.0 711.6 L1208.0 710.8 L1212.0 710.0 L1216.0 709.2 L1220.0 708.4 L1224.0 707.6 L1228.0 706.8 L1232.0 706.0 L1236.0 705.2 L1240.0 704.4 L1244.0 703.5 L1248.0 702.7 L1252.0 701.8 L1256.0 701.0 L1260.0 700.1 L1264.0 699.2 L1268.0 698.3 L1272.0 697.4 L1276.0 696.5 L1280.0 695.6 L1284.0 694.7 L1288.0 693.8 L1292.0 692.9 L1296.0 691.9 L1300.0 691.0 L1304.0 690.0 L1308.0 689.0 L1312.0 688.0 L1316.0 687.0 L1320.0 686.0 L1324.0 685.0 L1328.0 684.0 L1332.0 683.0 L1336.0 681.9 L1340.0 680.9 L1344.0 679.8 L1348.0 678.7 L1352.0 677.6 L1356.0 676.5 L1360.0 675.4 L1364.0 674.3 L1368.0 673.2 L1372.0 672.0 L1376.0 670.8 L1380.0 669.7 L1384.0 668.5 L1388.0 667.3 L1392.0 666.1 L1396.0 664.8 L1400.0 663.6 L1404.0 662.4 L1408.0 661.1 L1412.0 659.8 L1416.0 658.5 L1420.0 657.2 L1424.0 655.9 L1428.0 654.6 L1432.0 653.2 L1436.0 651.9 L1440.0 650.5 L1444.0 649.1 L1448.0 647.7 L1452.0 646.3 L1456.0 644.9 L1460.0 643.4 L1464.0 641.9 L1468.0 640.5 L1472.0 639.0 L1476.0 637.5 L1480.0 635.9 L1484.0 634.4 L1488.0 632.8 L1492.0 631.3 L1496.0 629.7 L1500.0 628.1 L1504.0 626.5 L1508.0 624.8 L1512.0 623.2 L1516.0 621.5 L1520.0 619.8 L1524.0 618.1 L1528.0 616.4 L1532.0 614.6 L1536.0 612.9 L1540.0 611.1 L1544.0 609.3 L1548.0 607.5 L1552.0 605.7 L1556.0 603.8 L1560.0 602.0 L1564.0 600.1 L1568.0 598.2 L1572.0 596.3 L1576.0 594.3 L1580.0 592.4 L1584.0 590.4 L1588.0 588.4 L1592.0 586.4 L1596.0 584.3 L1600.0 582.3 L1604.0 580.2 L1608.0 578.1 L1612.0 576.0 L1616.0 573.8 L1620.0 571.7 L1624.0 569.5 L1628.0 567.3 L1632.0 565.1 L1636.0 562.9 L1640.0 560.6 L1644.0 558.3 L1648.0 556.0 L1652.0 553.7 L1656.0 551.4 L1660.0 549.0 L1664.0 546.6 L1668.0 544.2 L1672.0 541.8 L1676.0 539.3 L1680.0 536.8 L1684.0 534.3 L1688.0 531.8 L1692.0 529.3 L1696.0 526.7 L1700.0 524.1 L1704.0 521.5 L1708.0 518.9 L1712.0 516.2 L1716.0 513.6 L1720.0 510.9 L1724.0 508.1 L1728.0 505.4 L1732.0 502.6 L1736.0 499.8 L1740.0 497.0 L1744.0 494.2 L1748.0 491.3 L1752.0 488.4 L1756.0 485.5 L1760.0 482.6 L1764.0 479.6 L1768.0 476.6 L1772.0 473.6 L1776.0 470.6 L1780.0 467.5 L1784.0 464.5 L1788.0 461.3 L1792.0 458.2 L1796.0 455.1 L1800.0 451.9 L1804.0 448.7 L1808.0 445.4 L1812.0 442.2 L1816.0 438.9 L1820.0 435.6 L1824.0 432.3 L1828.0 428.9 L1832.0 425.5 L1836.0 422.1 L1840.0 418.7 L1844.0 415.2 L1848.0 411.8 L1850.0 410.0 M1024.0 752.5 L1028.0 751.8 L1032.0 751.2 L1036.0 750.5 L1040.0 749.8 L1044.0 749.1 L1048.0 748.4 L1052.0 747.8 L1056.0 747.1 L1060.0 746.4 L1064.0 745.7 L1068.0 745.0 L1072.0 744.3 L1076.0 743.6 L1080.0 742.9 L1084.0 742.2 L1088.0 741.5 L1092.0 740.8 L1096.0 740.1 L1100.0 739.4 L1104.0 738.7 L1108.0 738.0 L1112.0 737.3 L1116.0 736.6 L1120.0 735.9 L1124.0 735.1 L1128.0 734.4 L1132.0 733.7 L1136.0 733.0 L1140.0 732.2 L1144.0 731.5 L1148.0 730.8 L1152.0 730.0 L1156.0 729.3 L1160.0 728.5 L1164.0 727.8 L1168.0 727.0 L1172.0 726.3 L1176.0 725.5 L1180.0 724.7 L1184.0 723.9 L1188.0 723.1 L1192.0 722.4 L1196.0 721.6 L1200.0 720.8 L1204.0 720.0 L1208.0 719.1 L1212.0 718.3 L1216.0 717.5 L1220.0 716.7 L1224.0 715.8 L1228.0 715.0 L1232.0 714.1 L1236.0 713.3 L1240.0 712.4 L1244.0 711.5 L1248.0 710.7 L1252.0 709.8 L1256.0 708.9 L1260.0 708.0 L1264.0 707.1 L1268.0 706.1 L1272.0 705.2 L1276.0 704.3 L1280.0 703.3 L1284.0 702.4 L1288.0 701.4 L1292.0 700.4 L1296.0 699.5 L1300.0 698.5 L1304.0 697.5 L1308.0 696.5 L1312.0 695.4 L1316.0 694.4 L1320.0 693.4 L1324.0 692.3 L1328.0 691.3 L1332.0 690.2 L1336.0 689.1 L1340.0 688.0 L1344.0 686.9 L1348.0 685.8 L1352.0 684.7 L1356.0 683.5 L1360.0 682.4 L1364.0 681.2 L1368.0 680.0 L1372.0 678.9 L1376.0 677.7 L1380.0 676.5 L1384.0 675.2 L1388.0 674.0 L1392.0 672.8 L1396.0 671.5 L1400.0 670.2 L1404.0 668.9 L1408.0 667.6 L1412.0 666.3 L1416.0 665.0 L1420.0 663.7 L1424.0 662.3 L1428.0 660.9 L1432.0 659.6 L1436.0 658.2 L1440.0 656.7 L1444.0 655.3 L1448.0 653.9 L1452.0 652.4 L1456.0 651.0 L1460.0 649.5 L1464.0 648.0 L1468.0 646.5 L1472.0 644.9 L1476.0 643.4 L1480.0 641.8 L1484.0 640.2 L1488.0 638.6 L1492.0 637.0 L1496.0 635.4 L1500.0 633.7 L1504.0 632.1 L1508.0 630.4 L1512.0 628.7 L1516.0 627.0 L1520.0 625.3 L1524.0 623.5 L1528.0 621.8 L1532.0 620.0 L1536.0 618.2 L1540.0 616.3 L1544.0 614.5 L1548.0 612.7 L1552.0 610.8 L1556.0 608.9 L1560.0 607.0 L1564.0 605.0 L1568.0 603.1 L1572.0 601.1 L1576.0 599.1 L1580.0 597.1 L1584.0 595.1 L1588.0 593.1 L1592.0 591.0 L1596.0 588.9 L1600.0 586.8 L1604.0 584.7 L1608.0 582.5 L1612.0 580.4 L1616.0 578.2 L1620.0 576.0 L1624.0 573.7 L1628.0 571.5 L1632.0 569.2 L1636.0 566.9 L1640.0 564.6 L1644.0 562.3 L1648.0 559.9 L1652.0 557.5 L1656.0 555.1 L1660.0 552.7 L1664.0 550.2 L1668.0 547.8 L1672.0 545.3 L1676.0 542.8 L1680.0 540.2 L1684.0 537.7 L1688.0 535.1 L1692.0 532.5 L1696.0 529.8 L1700.0 527.2 L1704.0 524.5 L1708.0 521.8 L1712.0 519.1 L1716.0 516.3 L1720.0 513.6 L1724.0 510.8 L1728.0 507.9 L1732.0 505.1 L1736.0 502.2 L1740.0 499.3 L1744.0 496.4 L1748.0 493.5 L1752.0 490.5 L1756.0 487.5 L1760.0 484.5 L1764.0 481.5 L1768.0 478.4 L1772.0 475.3 L1776.0 472.2 L1780.0 469.1 L1784.0 465.9 L1788.0 462.7 L1792.0 459.5 L1796.0 456.2 L1800.0 453.0 L1804.0 449.7 L1808.0 446.4 L1812.0 443.0 L1816.0 439.6 L1820.0 436.2 L1824.0 432.8 L1828.0 429.4 L1832.0 425.9 L1836.0 422.4 L1840.0 418.8 L1844.0 415.3 L1848.0 411.7 L1850.0 409.9 M1024.0 766.6 L1028.0 765.8 L1032.0 765.1 L1036.0 764.3 L1040.0 763.6 L1044.0 762.8 L1048.0 762.1 L1052.0 761.3 L1056.0 760.5 L1060.0 759.8 L1064.0 759.0 L1068.0 758.3 L1072.0 757.5 L1076.0 756.7 L1080.0 755.9 L1084.0 755.2 L1088.0 754.4 L1092.0 753.6 L1096.0 752.9 L1100.0 752.1 L1104.0 751.3 L1108.0 750.5 L1112.0 749.7 L1116.0 749.0 L1120.0 748.2 L1124.0 747.4 L1128.0 746.6 L1132.0 745.8 L1136.0 745.0 L1140.0 744.2 L1144.0 743.4 L1148.0 742.6 L1152.0 741.8 L1156.0 740.9 L1160.0 740.1 L1164.0 739.3 L1168.0 738.5 L1172.0 737.7 L1176.0 736.8 L1180.0 736.0 L1184.0 735.1 L1188.0 734.3 L1192.0 733.4 L1196.0 732.6 L1200.0 731.7 L1204.0 730.8 L1208.0 730.0 L1212.0 729.1 L1216.0 728.2 L1220.0 727.3 L1224.0 726.4 L1228.0 725.5 L1232.0 724.6 L1236.0 723.7 L1240.0 722.8 L1244.0 721.9 L1248.0 720.9 L1252.0 720.0 L1256.0 719.0 L1260.0 718.1 L1264.0 717.1 L1268.0 716.2 L1272.0 715.2 L1276.0 714.2 L1280.0 713.2 L1284.0 712.2 L1288.0 711.2 L1292.0 710.2 L1296.0 709.2 L1300.0 708.2 L1304.0 707.1 L1308.0 706.1 L1312.0 705.0 L1316.0 704.0 L1320.0 702.9 L1324.0 701.8 L1328.0 700.7 L1332.0 699.6 L1336.0 698.5 L1340.0 697.4 L1344.0 696.3 L1348.0 695.1 L1352.0 694.0 L1356.0 692.8 L1360.0 691.7 L1364.0 690.5 L1368.0 689.3 L1372.0 688.1 L1376.0 686.9 L1380.0 685.7 L1384.0 684.5 L1388.0 683.2 L1392.0 682.0 L1396.0 680.7 L1400.0 679.4 L1404.0 678.1 L1408.0 676.8 L1412.0 675.5 L1416.0 674.2 L1420.0 672.8 L1424.0 671.5 L1428.0 670.1 L1432.0 668.7 L1436.0 667.3 L1440.0 665.9 L1444.0 664.4 L1448.0 663.0 L1452.0 661.5 L1456.0 660.0 L1460.0 658.5 L1464.0 657.0 L1468.0 655.4 L1472.0 653.9 L1476.0 652.3 L1480.0 650.7 L1484.0 649.0 L1488.0 647.4 L1492.0 645.7 L1496.0 644.0 L1500.0 642.3 L1504.0 640.5 L1508.0 638.8 L1512.0 637.0 L1516.0 635.2 L1520.0 633.3 L1524.0 631.5 L1528.0 629.6 L1532.0 627.7 L1536.0 625.8 L1540.0 623.9 L1544.0 621.9 L1548.0 619.9 L1552.0 617.9 L1556.0 615.9 L1560.0 613.9 L1564.0 611.8 L1568.0 609.8 L1572.0 607.7 L1576.0 605.6 L1580.0 603.4 L1584.0 601.3 L1588.0 599.1 L1592.0 596.9 L1596.0 594.7 L1600.0 592.5 L1604.0 590.3 L1608.0 588.0 L1612.0 585.7 L1616.0 583.4 L1620.0 581.1 L1624.0 578.8 L1628.0 576.4 L1632.0 574.1 L1636.0 571.7 L1640.0 569.2 L1644.0 566.8 L1648.0 564.3 L1652.0 561.9 L1656.0 559.4 L1660.0 556.9 L1664.0 554.3 L1668.0 551.8 L1672.0 549.2 L1676.0 546.6 L1680.0 543.9 L1684.0 541.3 L1688.0 538.6 L1692.0 536.0 L1696.0 533.3 L1700.0 530.5 L1704.0 527.8 L1708.0 525.0 L1712.0 522.2 L1716.0 519.4 L1720.0 516.6 L1724.0 513.7 L1728.0 510.8 L1732.0 507.9 L1736.0 505.0 L1740.0 502.1 L1744.0 499.1 L1748.0 496.1 L1752.0 493.1 L1756.0 490.0 L1760.0 487.0 L1764.0 483.9 L1768.0 480.8 L1772.0 477.6 L1776.0 474.5 L1780.0 471.3 L1784.0 468.0 L1788.0 464.8 L1792.0 461.5 L1796.0 458.2 L1800.0 454.9 L1804.0 451.6 L1808.0 448.2 L1812.0 444.8 L1816.0 441.4 L1820.0 437.9 L1824.0 434.4 L1828.0 430.9 L1832.0 427.3 L1836.0 423.7 L1840.0 420.0 L1844.0 416.3 L1848.0 412.5 L1850.0 410.5 M1024.0 776.6 L1028.0 775.8 L1032.0 775.0 L1036.0 774.2 L1040.0 773.4 L1044.0 772.5 L1048.0 771.7 L1052.0 770.9 L1056.0 770.0 L1060.0 769.2 L1064.0 768.4 L1068.0 767.6 L1072.0 766.7 L1076.0 765.9 L1080.0 765.0 L1084.0 764.2 L1088.0 763.4 L1092.0 762.5 L1096.0 761.7 L1100.0 760.8 L1104.0 760.0 L1108.0 759.1 L1112.0 758.3 L1116.0 757.4 L1120.0 756.6 L1124.0 755.7 L1128.0 754.9 L1132.0 754.0 L1136.0 753.2 L1140.0 752.3 L1144.0 751.4 L1148.0 750.5 L1152.0 749.7 L1156.0 748.8 L1160.0 747.9 L1164.0 747.0 L1168.0 746.1 L1172.0 745.3 L1176.0 744.4 L1180.0 743.5 L1184.0 742.6 L1188.0 741.7 L1192.0 740.8 L1196.0 739.8 L1200.0 738.9 L1204.0 738.0 L1208.0 737.1 L1212.0 736.2 L1216.0 735.2 L1220.0 734.3 L1224.0 733.3 L1228.0 732.4 L1232.0 731.4 L1236.0 730.5 L1240.0 729.5 L1244.0 728.6 L1248.0 727.6 L1252.0 726.6 L1256.0 725.6 L1260.0 724.7 L1264.0 723.7 L1268.0 722.7 L1272.0 721.7 L1276.0 720.7 L1280.0 719.6 L1284.0 718.6 L1288.0 717.6 L1292.0 716.6 L1296.0 715.5 L1300.0 714.5 L1304.0 713.4 L1308.0 712.4 L1312.0 711.3 L1316.0 710.3 L1320.0 709.2 L1324.0 708.1 L1328.0 707.0 L1332.0 705.9 L1336.0 704.8 L1340.0 703.7 L1344.0 702.6 L1348.0 701.5 L1352.0 700.3 L1356.0 699.2 L1360.0 698.0 L1364.0 696.9 L1368.0 695.7 L1372.0 694.5 L1376.0 693.4 L1380.0 692.2 L1384.0 691.0 L1388.0 689.8 L1392.0 688.6 L1396.0 687.3 L1400.0 686.1 L1404.0 684.9 L1408.0 683.6 L1412.0 682.3 L1416.0 681.0 L1420.0 679.7 L1424.0 678.4 L1428.0 677.1 L1432.0 675.7 L1436.0 674.3 L1440.0 672.9 L1444.0 671.5 L1448.0 670.1 L1452.0 668.6 L1456.0 667.2 L1460.0 665.6 L1464.0 664.1 L1468.0 662.6 L1472.0 661.0 L1476.0 659.4 L1480.0 657.7 L1484.0 656.1 L1488.0 654.4 L1492.0 652.6 L1496.0 650.9 L1500.0 649.1 L1504.0 647.3 L1508.0 645.4 L1512.0 643.5 L1516.0 641.6 L1520.0 639.6 L1524.0 637.7 L1528.0 635.7 L1532.0 633.6 L1536.0 631.6 L1540.0 629.5 L1544.0 627.4 L1548.0 625.3 L1552.0 623.2 L1556.0 621.0 L1560.0 618.8 L1564.0 616.6 L1568.0 614.4 L1572.0 612.2 L1576.0 609.9 L1580.0 607.7 L1584.0 605.4 L1588.0 603.1 L1592.0 600.8 L1596.0 598.5 L1600.0 596.1 L1604.0 593.8 L1608.0 591.4 L1612.0 589.0 L1616.0 586.6 L1620.0 584.1 L1624.0 581.7 L1628.0 579.2 L1632.0 576.8 L1636.0 574.3 L1640.0 571.8 L1644.0 569.2 L1648.0 566.7 L1652.0 564.1 L1656.0 561.5 L1660.0 558.9 L1664.0 556.3 L1668.0 553.7 L1672.0 551.1 L1676.0 548.4 L1680.0 545.7 L1684.0 543.0 L1688.0 540.3 L1692.0 537.6 L1696.0 534.9 L1700.0 532.1 L1704.0 529.3 L1708.0 526.5 L1712.0 523.7 L1716.0 520.9 L1720.0 518.1 L1724.0 515.2 L1728.0 512.3 L1732.0 509.4 L1736.0 506.5 L1740.0 503.5 L1744.0 500.6 L1748.0 497.6 L1752.0 494.6 L1756.0 491.6 L1760.0 488.5 L1764.0 485.4 L1768.0 482.4 L1772.0 479.2 L1776.0 476.1 L1780.0 472.9 L1784.0 469.7 L1788.0 466.5 L1792.0 463.3 L1796.0 460.0 L1800.0 456.7 L1804.0 453.4 L1808.0 450.1 L1812.0 446.7 L1816.0 443.3 L1820.0 439.9 L1824.0 436.4 L1828.0 432.8 L1832.0 429.2 L1836.0 425.5 L1840.0 421.7 L1844.0 417.8 L1848.0 413.8 L1850.0 411.8 M1024.0 778.9 L1028.0 778.1 L1032.0 777.2 L1036.0 776.4 L1040.0 775.6 L1044.0 774.7 L1048.0 773.9 L1052.0 773.1 L1056.0 772.2 L1060.0 771.4 L1064.0 770.5 L1068.0 769.7 L1072.0 768.8 L1076.0 768.0 L1080.0 767.1 L1084.0 766.3 L1088.0 765.4 L1092.0 764.6 L1096.0 763.7 L1100.0 762.8 L1104.0 762.0 L1108.0 761.1 L1112.0 760.2 L1116.0 759.4 L1120.0 758.5 L1124.0 757.6 L1128.0 756.8 L1132.0 755.9 L1136.0 755.0 L1140.0 754.1 L1144.0 753.2 L1148.0 752.4 L1152.0 751.5 L1156.0 750.6 L1160.0 749.7 L1164.0 748.8 L1168.0 747.9 L1172.0 747.0 L1176.0 746.1 L1180.0 745.2 L1184.0 744.3 L1188.0 743.3 L1192.0 742.4 L1196.0 741.5 L1200.0 740.6 L1204.0 739.6 L1208.0 738.7 L1212.0 737.8 L1216.0 736.8 L1220.0 735.9 L1224.0 734.9 L1228.0 734.0 L1232.0 733.0 L1236.0 732.0 L1240.0 731.1 L1244.0 730.1 L1248.0 729.1 L1252.0 728.1 L1256.0 727.1 L1260.0 726.1 L1264.0 725.2 L1268.0 724.1 L1272.0 723.1 L1276.0 722.1 L1280.0 721.1 L1284.0 720.1 L1288.0 719.1 L1292.0 718.0 L1296.0 717.0 L1300.0 715.9 L1304.0 714.9 L1308.0 713.8 L1312.0 712.8 L1316.0 711.7 L1320.0 710.6 L1324.0 709.5 L1328.0 708.4 L1332.0 707.3 L1336.0 706.2 L1340.0 705.1 L1344.0 704.0 L1348.0 702.9 L1352.0 701.8 L1356.0 700.6 L1360.0 699.5 L1364.0 698.3 L1368.0 697.2 L1372.0 696.0 L1376.0 694.8 L1380.0 693.7 L1384.0 692.5 L1388.0 691.3 L1392.0 690.1 L1396.0 688.9 L1400.0 687.6 L1404.0 686.4 L1408.0 685.1 L1412.0 683.9 L1416.0 682.6 L1420.0 681.3 L1424.0 680.0 L1428.0 678.7 L1432.0 677.3 L1436.0 675.9 L1440.0 674.6 L1444.0 673.1 L1448.0 671.7 L1452.0 670.3 L1456.0 668.8 L1460.0 667.3 L1464.0 665.7 L1468.0 664.2 L1472.0 662.6 L1476.0 661.0 L1480.0 659.3 L1484.0 657.7 L1488.0 655.9 L1492.0 654.2 L1496.0 652.4 L1500.0 650.6 L1504.0 648.8 L1508.0 646.9 L1512.0 645.0 L1516.0 643.1 L1520.0 641.1 L1524.0 639.1 L1528.0 637.1 L1532.0 635.0 L1536.0 632.9 L1540.0 630.8 L1544.0 628.7 L1548.0 626.5 L1552.0 624.4 L1556.0 622.2 L1560.0 620.0 L1564.0 617.7 L1568.0 615.5 L1572.0 613.2 L1576.0 610.9 L1580.0 608.7 L1584.0 606.3 L1588.0 604.0 L1592.0 601.7 L1596.0 599.3 L1600.0 596.9 L1604.0 594.6 L1608.0 592.1 L1612.0 589.7 L1616.0 587.3 L1620.0 584.8 L1624.0 582.4 L1628.0 579.9 L1632.0 577.4 L1636.0 574.9 L1640.0 572.3 L1644.0 569.8 L1648.0 567.2 L1652.0 564.6 L1656.0 562.0 L1660.0 559.4 L1664.0 556.8 L1668.0 554.2 L1672.0 551.5 L1676.0 548.8 L1680.0 546.1 L1684.0 543.4 L1688.0 540.7 L1692.0 538.0 L1696.0 535.2 L1700.0 532.5 L1704.0 529.7 L1708.0 526.9 L1712.0 524.1 L1716.0 521.2 L1720.0 518.4 L1724.0 515.5 L1728.0 512.6 L1732.0 509.7 L1736.0 506.8 L1740.0 503.9 L1744.0 500.9 L1748.0 497.9 L1752.0 494.9 L1756.0 491.9 L1760.0 488.9 L1764.0 485.8 L1768.0 482.7 L1772.0 479.6 L1776.0 476.5 L1780.0 473.3 L1784.0 470.1 L1788.0 466.9 L1792.0 463.7 L1796.0 460.4 L1800.0 457.2 L1804.0 453.9 L1808.0 450.5 L1812.0 447.2 L1816.0 443.8 L1820.0 440.3 L1824.0 436.9 L1828.0 433.3 L1832.0 429.7 L1836.0 425.9 L1840.0 422.1 L1844.0 418.2 L1848.0 414.1 L1850.0 412.1 M1024.0 781.4 L1028.0 780.6 L1032.0 779.7 L1036.0 778.9 L1040.0 778.0 L1044.0 777.2 L1048.0 776.3 L1052.0 775.4 L1056.0 774.6 L1060.0 773.7 L1064.0 772.9 L1068.0 772.0 L1072.0 771.1 L1076.0 770.3 L1080.0 769.4 L1084.0 768.5 L1088.0 767.6 L1092.0 766.8 L1096.0 765.9 L1100.0 765.0 L1104.0 764.1 L1108.0 763.3 L1112.0 762.4 L1116.0 761.5 L1120.0 760.6 L1124.0 759.7 L1128.0 758.8 L1132.0 757.9 L1136.0 757.1 L1140.0 756.2 L1144.0 755.3 L1148.0 754.4 L1152.0 753.4 L1156.0 752.5 L1160.0 751.6 L1164.0 750.7 L1168.0 749.8 L1172.0 748.9 L1176.0 748.0 L1180.0 747.0 L1184.0 746.1 L1188.0 745.2 L1192.0 744.2 L1196.0 743.3 L1200.0 742.4 L1204.0 741.4 L1208.0 740.5 L1212.0 739.5 L1216.0 738.6 L1220.0 737.6 L1224.0 736.6 L1228.0 735.7 L1232.0 734.7 L1236.0 733.7 L1240.0 732.8 L1244.0 731.8 L1248.0 730.8 L1252.0 729.8 L1256.0 728.8 L1260.0 727.8 L1264.0 726.8 L1268.0 725.8 L1272.0 724.8 L1276.0 723.7 L1280.0 722.7 L1284.0 721.7 L1288.0 720.6 L1292.0 719.6 L1296.0 718.6 L1300.0 717.5 L1304.0 716.5 L1308.0 715.4 L1312.0 714.3 L1316.0 713.3 L1320.0 712.2 L1324.0 711.1 L1328.0 710.0 L1332.0 708.9 L1336.0 707.8 L1340.0 706.7 L1344.0 705.6 L1348.0 704.5 L1352.0 703.3 L1356.0 702.2 L1360.0 701.1 L1364.0 699.9 L1368.0 698.8 L1372.0 697.6 L1376.0 696.5 L1380.0 695.3 L1384.0 694.1 L1388.0 692.9 L1392.0 691.7 L1396.0 690.5 L1400.0 689.3 L1404.0 688.1 L1408.0 686.8 L1412.0 685.6 L1416.0 684.3 L1420.0 683.0 L1424.0 681.7 L1428.0 680.4 L1432.0 679.1 L1436.0 677.7 L1440.0 676.3 L1444.0 674.9 L1448.0 673.5 L1452.0 672.0 L1456.0 670.6 L1460.0 669.1 L1464.0 667.5 L1468.0 666.0 L1472.0 664.4 L1476.0 662.8 L1480.0 661.1 L1484.0 659.4 L1488.0 657.7 L1492.0 655.9 L1496.0 654.2 L1500.0 652.3 L1504.0 650.5 L1508.0 648.6 L1512.0 646.6 L1516.0 644.7 L1520.0 642.7 L1524.0 640.6 L1528.0 638.6 L1532.0 636.5 L1536.0 634.4 L1540.0 632.2 L1544.0 630.1 L1548.0 627.9 L1552.0 625.7 L1556.0 623.4 L1560.0 621.2 L1564.0 618.9 L1568.0 616.6 L1572.0 614.3 L1576.0 612.0 L1580.0 609.7 L1584.0 607.4 L1588.0 605.0 L1592.0 602.6 L1596.0 600.2 L1600.0 597.8 L1604.0 595.4 L1608.0 593.0 L1612.0 590.5 L1616.0 588.1 L1620.0 585.6 L1624.0 583.1 L1628.0 580.6 L1632.0 578.1 L1636.0 575.5 L1640.0 573.0 L1644.0 570.4 L1648.0 567.8 L1652.0 565.2 L1656.0 562.6 L1660.0 559.9 L1664.0 557.3 L1668.0 554.6 L1672.0 552.0 L1676.0 549.3 L1680.0 546.6 L1684.0 543.9 L1688.0 541.1 L1692.0 538.4 L1696.0 535.6 L1700.0 532.9 L1704.0 530.1 L1708.0 527.3 L1712.0 524.5 L1716.0 521.6 L1720.0 518.8 L1724.0 515.9 L1728.0 513.0 L1732.0 510.1 L1736.0 507.2 L1740.0 504.3 L1744.0 501.3 L1748.0 498.3 L1752.0 495.3 L1756.0 492.3 L1760.0 489.3 L1764.0 486.2 L1768.0 483.1 L1772.0 480.0 L1776.0 476.9 L1780.0 473.7 L1784.0 470.6 L1788.0 467.4 L1792.0 464.1 L1796.0 460.9 L1800.0 457.6 L1804.0 454.3 L1808.0 451.0 L1812.0 447.6 L1816.0 444.3 L1820.0 440.8 L1824.0 437.3 L1828.0 433.8 L1832.0 430.1 L1836.0 426.4 L1840.0 422.6 L1844.0 418.6 L1848.0 414.5 L1850.0 412.4 M1024.0 799.0 L1028.0 798.1 L1032.0 797.1 L1036.0 796.2 L1040.0 795.2 L1044.0 794.3 L1048.0 793.3 L1052.0 792.4 L1056.0 791.4 L1060.0 790.5 L1064.0 789.5 L1068.0 788.5 L1072.0 787.6 L1076.0 786.6 L1080.0 785.6 L1084.0 784.7 L1088.0 783.7 L1092.0 782.7 L1096.0 781.8 L1100.0 780.8 L1104.0 779.8 L1108.0 778.8 L1112.0 777.8 L1116.0 776.8 L1120.0 775.9 L1124.0 774.9 L1128.0 773.9 L1132.0 772.9 L1136.0 771.9 L1140.0 770.9 L1144.0 769.9 L1148.0 768.9 L1152.0 767.9 L1156.0 766.9 L1160.0 765.9 L1164.0 764.8 L1168.0 763.8 L1172.0 762.8 L1176.0 761.8 L1180.0 760.8 L1184.0 759.7 L1188.0 758.7 L1192.0 757.7 L1196.0 756.7 L1200.0 755.6 L1204.0 754.6 L1208.0 753.6 L1212.0 752.5 L1216.0 751.5 L1220.0 750.4 L1224.0 749.4 L1228.0 748.3 L1232.0 747.3 L1236.0 746.2 L1240.0 745.2 L1244.0 744.1 L1248.0 743.0 L1252.0 742.0 L1256.0 740.9 L1260.0 739.8 L1264.0 738.7 L1268.0 737.7 L1272.0 736.6 L1276.0 735.5 L1280.0 734.4 L1284.0 733.3 L1288.0 732.2 L1292.0 731.1 L1296.0 730.0 L1300.0 728.9 L1304.0 727.8 L1308.0 726.7 L1312.0 725.6 L1316.0 724.5 L1320.0 723.3 L1324.0 722.2 L1328.0 721.1 L1332.0 720.0 L1336.0 718.8 L1340.0 717.7 L1344.0 716.6 L1348.0 715.4 L1352.0 714.3 L1356.0 713.2 L1360.0 712.0 L1364.0 710.9 L1368.0 709.7 L1372.0 708.6 L1376.0 707.4 L1380.0 706.3 L1384.0 705.1 L1388.0 703.9 L1392.0 702.8 L1396.0 701.6 L1400.0 700.4 L1404.0 699.2 L1408.0 698.0 L1412.0 696.7 L1416.0 695.5 L1420.0 694.2 L1424.0 692.9 L1428.0 691.6 L1432.0 690.3 L1436.0 689.0 L1440.0 687.6 L1444.0 686.2 L1448.0 684.7 L1452.0 683.2 L1456.0 681.7 L1460.0 680.2 L1464.0 678.6 L1468.0 677.0 L1472.0 675.4 L1476.0 673.7 L1480.0 671.9 L1484.0 670.2 L1488.0 668.3 L1492.0 666.5 L1496.0 664.5 L1500.0 662.6 L1504.0 660.5 L1508.0 658.5 L1512.0 656.4 L1516.0 654.2 L1520.0 652.0 L1524.0 649.8 L1528.0 647.5 L1532.0 645.2 L1536.0 642.9 L1540.0 640.5 L1544.0 638.1 L1548.0 635.7 L1552.0 633.3 L1556.0 630.8 L1560.0 628.3 L1564.0 625.9 L1568.0 623.4 L1572.0 620.9 L1576.0 618.3 L1580.0 615.8 L1584.0 613.3 L1588.0 610.7 L1592.0 608.2 L1596.0 605.6 L1600.0 603.0 L1604.0 600.4 L1608.0 597.8 L1612.0 595.2 L1616.0 592.6 L1620.0 589.9 L1624.0 587.3 L1628.0 584.6 L1632.0 582.0 L1636.0 579.3 L1640.0 576.6 L1644.0 573.9 L1648.0 571.2 L1652.0 568.5 L1656.0 565.8 L1660.0 563.0 L1664.0 560.3 L1668.0 557.6 L1672.0 554.8 L1676.0 552.0 L1680.0 549.3 L1684.0 546.5 L1688.0 543.7 L1692.0 540.9 L1696.0 538.1 L1700.0 535.3 L1704.0 532.5 L1708.0 529.7 L1712.0 526.8 L1716.0 524.0 L1720.0 521.2 L1724.0 518.3 L1728.0 515.4 L1732.0 512.5 L1736.0 509.6 L1740.0 506.7 L1744.0 503.8 L1748.0 500.9 L1752.0 497.9 L1756.0 495.0 L1760.0 492.0 L1764.0 489.0 L1768.0 486.0 L1772.0 482.9 L1776.0 479.9 L1780.0 476.8 L1784.0 473.7 L1788.0 470.6 L1792.0 467.5 L1796.0 464.4 L1800.0 461.2 L1804.0 458.0 L1808.0 454.8 L1812.0 451.6 L1816.0 448.3 L1820.0 445.0 L1824.0 441.5 L1828.0 438.0 L1832.0 434.3 L1836.0 430.5 L1840.0 426.4 L1844.0 422.2 L1848.0 417.6 L1850.0 415.3 M1024.0 806.3 L1028.0 805.3 L1032.0 804.3 L1036.0 803.2 L1040.0 802.2 L1044.0 801.2 L1048.0 800.2 L1052.0 799.2 L1056.0 798.1 L1060.0 797.1 L1064.0 796.1 L1068.0 795.0 L1072.0 794.0 L1076.0 793.0 L1080.0 791.9 L1084.0 790.9 L1088.0 789.9 L1092.0 788.8 L1096.0 787.8 L1100.0 786.7 L1104.0 785.7 L1108.0 784.6 L1112.0 783.6 L1116.0 782.5 L1120.0 781.5 L1124.0 780.4 L1128.0 779.4 L1132.0 778.3 L1136.0 777.3 L1140.0 776.2 L1144.0 775.2 L1148.0 774.1 L1152.0 773.0 L1156.0 772.0 L1160.0 770.9 L1164.0 769.9 L1168.0 768.8 L1172.0 767.7 L1176.0 766.7 L1180.0 765.6 L1184.0 764.5 L1188.0 763.4 L1192.0 762.4 L1196.0 761.3 L1200.0 760.2 L1204.0 759.2 L1208.0 758.1 L1212.0 757.0 L1216.0 755.9 L1220.0 754.9 L1224.0 753.8 L1228.0 752.7 L1232.0 751.6 L1236.0 750.5 L1240.0 749.5 L1244.0 748.4 L1248.0 747.3 L1252.0 746.2 L1256.0 745.1 L1260.0 744.0 L1264.0 743.0 L1268.0 741.9 L1272.0 740.8 L1276.0 739.7 L1280.0 738.6 L1284.0 737.5 L1288.0 736.4 L1292.0 735.4 L1296.0 734.3 L1300.0 733.2 L1304.0 732.1 L1308.0 731.0 L1312.0 729.9 L1316.0 728.8 L1320.0 727.7 L1324.0 726.6 L1328.0 725.5 L1332.0 724.5 L1336.0 723.4 L1340.0 722.3 L1344.0 721.2 L1348.0 720.1 L1352.0 719.0 L1356.0 717.9 L1360.0 716.8 L1364.0 715.7 L1368.0 714.6 L1372.0 713.5 L1376.0 712.5 L1380.0 711.4 L1384.0 710.3 L1388.0 709.2 L1392.0 708.1 L1396.0 707.0 L1400.0 705.9 L1404.0 704.7 L1408.0 703.6 L1412.0 702.5 L1416.0 701.3 L1420.0 700.1 L1424.0 698.9 L1428.0 697.7 L1432.0 696.4 L1436.0 695.1 L1440.0 693.8 L1444.0 692.5 L1448.0 691.1 L1452.0 689.7 L1456.0 688.2 L1460.0 686.7 L1464.0 685.2 L1468.0 683.6 L1472.0 682.0 L1476.0 680.3 L1480.0 678.6 L1484.0 676.9 L1488.0 675.0 L1492.0 673.1 L1496.0 671.2 L1500.0 669.2 L1504.0 667.1 L1508.0 665.0 L1512.0 662.8 L1516.0 660.6 L1520.0 658.3 L1524.0 656.0 L1528.0 653.6 L1532.0 651.2 L1536.0 648.7 L1540.0 646.2 L1544.0 643.7 L1548.0 641.2 L1552.0 638.6 L1556.0 636.0 L1560.0 633.4 L1564.0 630.8 L1568.0 628.2 L1572.0 625.5 L1576.0 622.9 L1580.0 620.2 L1584.0 617.6 L1588.0 614.9 L1592.0 612.2 L1596.0 609.5 L1600.0 606.8 L1604.0 604.0 L1608.0 601.3 L1612.0 598.6 L1616.0 595.8 L1620.0 593.1 L1624.0 590.3 L1628.0 587.5 L1632.0 584.7 L1636.0 582.0 L1640.0 579.2 L1644.0 576.4 L1648.0 573.6 L1652.0 570.8 L1656.0 568.0 L1660.0 565.1 L1664.0 562.3 L1668.0 559.5 L1672.0 556.7 L1676.0 553.8 L1680.0 551.0 L1684.0 548.2 L1688.0 545.3 L1692.0 542.5 L1696.0 539.6 L1700.0 536.8 L1704.0 533.9 L1708.0 531.1 L1712.0 528.2 L1716.0 525.3 L1720.0 522.4 L1724.0 519.6 L1728.0 516.7 L1732.0 513.8 L1736.0 510.8 L1740.0 507.9 L1744.0 505.0 L1748.0 502.0 L1752.0 499.1 L1756.0 496.1 L1760.0 493.1 L1764.0 490.1 L1768.0 487.1 L1772.0 484.0 L1776.0 480.9 L1780.0 477.9 L1784.0 474.8 L1788.0 471.6 L1792.0 468.5 L1796.0 465.3 L1800.0 462.1 L1804.0 458.9 L1808.0 455.7 L1812.0 452.4 L1816.0 449.1 L1820.0 445.7 L1824.0 442.3 L1828.0 438.7 L1832.0 434.9 L1836.0 431.0 L1840.0 426.9 L1844.0 422.5 L1848.0 417.9 L1850.0 415.5 M1024.0 882.8 L1028.0 881.4 L1032.0 880.0 L1036.0 878.6 L1040.0 877.1 L1044.0 875.7 L1048.0 874.3 L1052.0 872.9 L1056.0 871.5 L1060.0 870.1 L1064.0 868.7 L1068.0 867.3 L1072.0 865.9 L1076.0 864.5 L1080.0 863.1 L1084.0 861.7 L1088.0 860.3 L1092.0 858.9 L1096.0 857.5 L1100.0 856.1 L1104.0 854.7 L1108.0 853.3 L1112.0 851.9 L1116.0 850.5 L1120.0 849.1 L1124.0 847.7 L1128.0 846.3 L1132.0 844.9 L1136.0 843.5 L1140.0 842.1 L1144.0 840.7 L1148.0 839.3 L1152.0 837.9 L1156.0 836.5 L1160.0 835.0 L1164.0 833.6 L1168.0 832.2 L1172.0 830.8 L1176.0 829.3 L1180.0 827.9 L1184.0 826.5 L1188.0 825.0 L1192.0 823.6 L1196.0 822.1 L1200.0 820.7 L1204.0 819.2 L1208.0 817.8 L1212.0 816.3 L1216.0 814.9 L1220.0 813.4 L1224.0 811.9 L1228.0 810.4 L1232.0 808.9 L1236.0 807.4 L1240.0 806.0 L1244.0 804.5 L1248.0 802.9 L1252.0 801.4 L1256.0 799.9 L1260.0 798.4 L1264.0 796.9 L1268.0 795.3 L1272.0 793.8 L1276.0 792.2 L1280.0 790.7 L1284.0 789.1 L1288.0 787.5 L1292.0 785.9 L1296.0 784.3 L1300.0 782.8 L1304.0 781.1 L1308.0 779.5 L1312.0 777.9 L1316.0 776.3 L1320.0 774.7 L1324.0 773.0 L1328.0 771.4 L1332.0 769.7 L1336.0 768.0 L1340.0 766.3 L1344.0 764.6 L1348.0 762.9 L1352.0 761.2 L1356.0 759.5 L1360.0 757.8 L1364.0 756.1 L1368.0 754.3 L1372.0 752.5 L1376.0 750.8 L1380.0 749.0 L1384.0 747.2 L1388.0 745.4 L1392.0 743.6 L1396.0 741.8 L1400.0 739.9 L1404.0 738.1 L1408.0 736.2 L1412.0 734.3 L1416.0 732.4 L1420.0 730.5 L1424.0 728.6 L1428.0 726.7 L1432.0 724.8 L1436.0 722.8 L1440.0 720.9 L1444.0 718.9 L1448.0 716.9 L1452.0 714.9 L1456.0 712.8 L1460.0 710.8 L1464.0 708.7 L1468.0 706.7 L1472.0 704.6 L1476.0 702.5 L1480.0 700.4 L1484.0 698.2 L1488.0 696.1 L1492.0 693.9 L1496.0 691.7 L1500.0 689.5 L1504.0 687.3 L1508.0 685.0 L1512.0 682.8 L1516.0 680.5 L1520.0 678.2 L1524.0 675.9 L1528.0 673.6 L1532.0 671.2 L1536.0 668.8 L1540.0 666.5 L1544.0 664.0 L1548.0 661.6 L1552.0 659.2 L1556.0 656.7 L1560.0 654.2 L1564.0 651.7 L1568.0 649.1 L1572.0 646.6 L1576.0 644.0 L1580.0 641.4 L1584.0 638.8 L1588.0 636.1 L1592.0 633.5 L1596.0 630.8 L1600.0 628.1 L1604.0 625.3 L1608.0 622.6 L1612.0 619.8 L1616.0 617.0 L1620.0 614.1 L1624.0 611.3 L1628.0 608.4 L1632.0 605.5 L1636.0 602.6 L1640.0 599.6 L1644.0 596.6 L1648.0 593.6 L1652.0 590.6 L1656.0 587.5 L1660.0 584.4 L1664.0 581.3 L1668.0 578.2 L1672.0 575.0 L1676.0 571.8 L1680.0 568.6 L1684.0 565.3 L1688.0 562.0 L1692.0 558.7 L1696.0 555.4 L1700.0 552.0 L1704.0 548.6 L1708.0 545.2 L1712.0 541.8 L1716.0 538.4 L1720.0 534.9 L1724.0 531.4 L1728.0 527.9 L1732.0 524.4 L1736.0 520.8 L1740.0 517.3 L1744.0 513.7 L1748.0 510.1 L1752.0 506.6 L1756.0 503.0 L1760.0 499.4 L1764.0 495.8 L1768.0 492.2 L1772.0 488.6 L1776.0 485.0 L1780.0 481.4 L1784.0 477.8 L1788.0 474.2 L1792.0 470.6 L1796.0 467.0 L1800.0 463.5 L1804.0 459.9 L1808.0 456.4 L1812.0 452.8 L1816.0 449.3 L1820.0 445.7 L1824.0 442.2 L1828.0 438.5 L1832.0 434.9 L1836.0 431.1 L1840.0 427.2 L1844.0 423.3 L1848.0 419.2 L1850.0 417.1 M1250.0 802.2 L1254.0 800.7 L1258.0 799.3 L1262.0 797.8 L1266.0 796.3 L1270.0 794.8 L1274.0 793.4 L1278.0 791.9 L1282.0 790.4 L1286.0 788.8 L1290.0 787.3 L1294.0 785.8 L1298.0 784.3 L1302.0 782.7 L1306.0 781.2 L1310.0 779.6 L1314.0 778.1 L1318.0 776.5 L1322.0 774.9 L1326.0 773.3 L1330.0 771.7 L1334.0 770.1 L1338.0 768.5 L1342.0 766.9 L1346.0 765.2 L1350.0 763.6 L1354.0 761.9 L1358.0 760.3 L1362.0 758.6 L1366.0 756.9 L1370.0 755.2 L1374.0 753.5 L1378.0 751.8 L1382.0 750.1 L1386.0 748.3 L1390.0 746.6 L1394.0 744.8 L1398.0 743.1 L1402.0 741.3 L1406.0 739.5 L1410.0 737.7 L1414.0 735.9 L1418.0 734.0 L1422.0 732.2 L1426.0 730.3 L1430.0 728.4 L1434.0 726.6 L1438.0 724.7 L1442.0 722.7 L1446.0 720.8 L1450.0 718.9 L1454.0 716.9 L1458.0 714.9 L1462.0 713.0 L1466.0 710.9 L1470.0 708.9 L1474.0 706.9 L1478.0 704.8 L1482.0 702.8 L1486.0 700.7 L1490.0 698.6 L1494.0 696.5 L1498.0 694.3 L1502.0 692.2 L1506.0 690.0 L1510.0 687.8 L1514.0 685.6 L1518.0 683.4 L1522.0 681.1 L1526.0 678.9 L1530.0 676.6 L1534.0 674.3 L1538.0 672.0 L1542.0 669.6 L1546.0 667.3 L1550.0 664.9 L1554.0 662.4 L1558.0 659.9 L1562.0 657.4 L1566.0 654.9 L1570.0 652.4 L1574.0 649.8 L1578.0 647.2 L1582.0 644.5 L1586.0 641.7 L1590.0 638.9 L1594.0 636.1 L1598.0 633.2 L1602.0 630.4 L1606.0 627.5 L1610.0 624.5 L1614.0 621.6 L1618.0 618.6 L1622.0 615.6 L1626.0 612.6 L1630.0 609.6 L1634.0 606.5 L1638.0 603.4 L1642.0 600.3 L1646.0 597.1 L1650.0 594.0 L1654.0 590.8 L1658.0 587.5 L1662.0 584.3 L1666.0 581.0 L1670.0 577.7 L1674.0 574.4 L1678.0 571.0 L1682.0 567.6 L1686.0 564.2 L1690.0 560.8 L1694.0 557.3 L1698.0 553.8 L1700.0 552.0" stroke="#fe9400" stroke-width="11.6" stroke-linecap="round" stroke-linejoin="round" fill="none"/>
<path d="M1942.0 332.5 L1945.0 330.9 L1948.0 329.3 L1951.0 327.8 L1954.0 326.3 L1957.0 324.8 L1960.0 323.3 L1963.0 321.8 L1966.0 320.4 L1969.0 319.0 L1972.0 317.6 L1975.0 316.2 L1978.0 314.9 L1981.0 313.6 L1984.0 312.3 L1987.0 311.0 L1990.0 309.7 L1993.0 308.5 L1996.0 307.2 L1999.0 306.0 L2002.0 304.8 L2005.0 303.7 L2008.0 302.5 L2011.0 301.4 L2014.0 300.3 L2017.0 299.2 L2020.0 298.2 L2023.0 297.2 L2026.0 296.2 L2029.0 295.2 L2032.0 294.3 L2035.0 293.5 L2038.0 292.7 L2041.0 291.9 L2044.0 291.1 L2047.0 290.3 L2050.0 289.5 L2053.0 288.8 L2056.0 288.0 L2059.0 287.2 L2062.0 286.5 L2065.0 285.7 L2068.0 284.8 L2071.0 284.0 L2074.0 283.1 L2077.0 282.1 L2080.0 281.2 L2083.0 280.1 L2086.0 279.1 L2089.0 278.0 L2092.0 276.9 L2095.0 275.7 L2098.0 274.5 L2101.0 273.3 L2104.0 272.1 L2107.0 270.8 L2110.0 269.5 L2113.0 268.2 L2116.0 266.9 L2118.0 266.0" stroke="#fe9400" stroke-width="11" stroke-linecap="round" fill="none"/>
<circle cx="2121.5" cy="259.5" r="5.8" fill="#fe9400"/>
<g fill="#fe6b1a"><circle cx="281.3" cy="852.2" r="5.5"/><circle cx="337.1" cy="849.1" r="5.5"/><circle cx="381.9" cy="846.1" r="5.5"/><circle cx="412.4" cy="843.8" r="5.5"/><circle cx="440.9" cy="841.5" r="5.5"/><circle cx="461.7" cy="839.6" r="5.5"/><circle cx="482.6" cy="837.7" r="5.5"/><circle cx="498.7" cy="836.1" r="5.5"/><circle cx="516.9" cy="834.3" r="5.5"/><circle cx="533.2" cy="832.6" r="5.5"/><circle cx="550.7" cy="830.7" r="5.5"/><circle cx="570.6" cy="828.5" r="5.5"/><circle cx="583.2" cy="827.0" r="5.5"/><circle cx="595.0" cy="825.7" r="5.5"/><circle cx="615.7" cy="823.2" r="5.5"/><circle cx="634.1" cy="820.9" r="5.5"/><circle cx="642.3" cy="819.9" r="5.5"/><circle cx="657.8" cy="817.9" r="5.5"/><circle cx="671.6" cy="816.1" r="5.5"/><circle cx="684.1" cy="814.4" r="5.5"/><circle cx="701.4" cy="812.1" r="5.5"/><circle cx="711.5" cy="810.7" r="5.5"/><circle cx="726.2" cy="808.6" r="5.5"/><circle cx="738.9" cy="806.8" r="5.5"/><circle cx="750.6" cy="805.2" r="5.5"/><circle cx="761.7" cy="803.5" r="5.5"/><circle cx="771.8" cy="802.0" r="5.5"/><circle cx="785.1" cy="800.1" r="5.5"/><circle cx="796.4" cy="798.4" r="5.5"/><circle cx="803.2" cy="797.3" r="5.5"/><circle cx="816.7" cy="795.3" r="5.5"/><circle cx="826.5" cy="793.7" r="5.5"/><circle cx="836.9" cy="792.1" r="5.5"/><circle cx="846.8" cy="790.6" r="5.5"/><circle cx="856.0" cy="789.1" r="5.5"/><circle cx="865.2" cy="787.6" r="5.5"/><circle cx="874.4" cy="786.1" r="5.5"/><circle cx="883.0" cy="784.7" r="5.5"/><circle cx="891.6" cy="783.3" r="5.5"/><circle cx="905.5" cy="781.0" r="5.5"/><circle cx="918.5" cy="778.9" r="5.5"/><circle cx="930.2" cy="776.9" r="5.5"/><circle cx="940.9" cy="775.1" r="5.5"/><circle cx="951.0" cy="773.4" r="5.5"/><circle cx="960.4" cy="771.8" r="5.5"/><circle cx="969.2" cy="770.3" r="5.5"/><circle cx="977.5" cy="768.8" r="5.5"/><circle cx="985.4" cy="767.5" r="5.5"/><circle cx="992.9" cy="766.1" r="5.5"/><circle cx="1000.0" cy="764.9" r="5.5"/><circle cx="1006.8" cy="763.7" r="5.5"/><circle cx="1013.2" cy="762.6" r="5.5"/></g>
<path d="M1024.0 760.7 L1028.0 759.9 L1032.0 759.2 L1036.0 758.5 L1040.0 757.8 L1044.0 757.1 L1048.0 756.4 L1052.0 755.6 L1056.0 754.9 L1060.0 754.2 L1064.0 753.5 L1068.0 752.8 L1072.0 752.0 L1076.0 751.3 L1080.0 750.6 L1084.0 749.8 L1088.0 749.1 L1092.0 748.4 L1096.0 747.6 L1100.0 746.9 L1104.0 746.2 L1108.0 745.4 L1112.0 744.7 L1116.0 743.9 L1120.0 743.2 L1124.0 742.4 L1128.0 741.7 L1132.0 740.9 L1136.0 740.2 L1140.0 739.4 L1144.0 738.6 L1148.0 737.9 L1152.0 737.1 L1156.0 736.3 L1160.0 735.5 L1164.0 734.7 L1168.0 734.0 L1172.0 733.2 L1176.0 732.4 L1180.0 731.6 L1184.0 730.7 L1188.0 729.9 L1192.0 729.1 L1196.0 728.3 L1200.0 727.5 L1204.0 726.6 L1208.0 725.8 L1212.0 724.9 L1216.0 724.1 L1220.0 723.2 L1224.0 722.3 L1228.0 721.5 L1232.0 720.6 L1236.0 719.7 L1240.0 718.8 L1244.0 717.9 L1248.0 717.0 L1252.0 716.1 L1256.0 715.2 L1260.0 714.2 L1264.0 713.3 L1268.0 712.3 L1272.0 711.4 L1276.0 710.4 L1280.0 709.4 L1284.0 708.4 L1288.0 707.5 L1292.0 706.5 L1296.0 705.4 L1300.0 704.4 L1304.0 703.4 L1308.0 702.4 L1312.0 701.3 L1316.0 700.3 L1320.0 699.2 L1324.0 698.1 L1328.0 697.0 L1332.0 695.9 L1336.0 694.8 L1340.0 693.7 L1344.0 692.6 L1348.0 691.4 L1352.0 690.3 L1356.0 689.1 L1360.0 687.9 L1364.0 686.7 L1368.0 685.5 L1372.0 684.3 L1376.0 683.1 L1380.0 681.9 L1384.0 680.6 L1388.0 679.3 L1392.0 678.1 L1396.0 676.8 L1400.0 675.5 L1404.0 674.2 L1408.0 672.8 L1412.0 671.5 L1416.0 670.1 L1420.0 668.8 L1424.0 667.4 L1428.0 666.0 L1432.0 664.6 L1436.0 663.2 L1440.0 661.7 L1444.0 660.3 L1448.0 658.8 L1452.0 657.3 L1456.0 655.8 L1460.0 654.3 L1464.0 652.8 L1468.0 651.2 L1472.0 649.6 L1476.0 648.1 L1480.0 646.5 L1484.0 644.9 L1488.0 643.2 L1492.0 641.6 L1496.0 639.9 L1500.0 638.2 L1504.0 636.6 L1508.0 634.8 L1512.0 633.1 L1516.0 631.4 L1520.0 629.6 L1524.0 627.8 L1528.0 626.0 L1532.0 624.2 L1536.0 622.4 L1540.0 620.5 L1544.0 618.6 L1548.0 616.8 L1552.0 614.8 L1556.0 612.9 L1560.0 611.0 L1564.0 609.0 L1568.0 607.0 L1572.0 605.0 L1576.0 603.0 L1580.0 600.9 L1584.0 598.9 L1588.0 596.8 L1592.0 594.7 L1596.0 592.5 L1600.0 590.4 L1604.0 588.2 L1608.0 586.0 L1612.0 583.8 L1616.0 581.6 L1620.0 579.3 L1624.0 577.1 L1628.0 574.8 L1632.0 572.5 L1636.0 570.1 L1640.0 567.8 L1644.0 565.4 L1648.0 563.0 L1652.0 560.5 L1656.0 558.1 L1660.0 555.6 L1664.0 553.1 L1668.0 550.6 L1672.0 548.1 L1676.0 545.5 L1680.0 542.9 L1684.0 540.3 L1688.0 537.6 L1692.0 535.0 L1696.0 532.3 L1700.0 529.6 L1704.0 526.9 L1708.0 524.1 L1712.0 521.3 L1716.0 518.5 L1720.0 515.7 L1724.0 512.8 L1728.0 510.0 L1732.0 507.1 L1736.0 504.1 L1740.0 501.2 L1744.0 498.2 L1748.0 495.2 L1752.0 492.2 L1756.0 489.1 L1760.0 486.0 L1764.0 482.9 L1768.0 479.8 L1772.0 476.7 L1776.0 473.5 L1780.0 470.3 L1784.0 467.0 L1788.0 463.8 L1792.0 460.5 L1796.0 457.2 L1800.0 453.8 L1804.0 450.5 L1808.0 447.1 L1812.0 443.7 L1816.0 440.2 L1820.0 436.7 L1824.0 433.2 L1828.0 429.7 L1832.0 426.2 L1836.0 422.6 L1840.0 419.0 L1844.0 415.3 L1848.0 411.7 L1852.0 408.0" stroke="#fe6b1a" stroke-width="10" stroke-linecap="round" fill="none"/>
<path d="M1852.0 409.5 L1854.0 408.0 L1856.0 406.5 L1858.0 405.0 L1860.0 403.5 L1862.0 402.1 L1864.0 400.6 L1866.0 399.1 L1868.0 397.7 L1870.0 396.2 L1872.0 394.8 L1874.0 393.3 L1876.0 391.9 L1878.0 390.5 L1880.0 389.1 L1882.0 387.7 L1884.0 386.3 L1886.0 384.9 L1888.0 383.5 L1890.0 382.0 L1892.0 380.6 L1894.0 379.1 L1896.0 377.6 L1898.0 376.0 L1900.0 374.4 L1902.0 372.8 L1904.0 371.2 L1906.0 369.6 L1908.0 368.0 L1910.0 366.5 L1912.0 364.9 L1914.0 363.4 L1916.0 361.9 L1918.0 360.4 L1920.0 359.0" stroke="#e4441f" stroke-width="13" stroke-linecap="round" fill="none"/>
<path d="M1948.7 341.0 L1950.7 339.9 L1952.7 338.8 L1954.7 337.7 L1956.7 336.7 L1958.7 335.7 L1960.7 334.7 L1962.7 333.6 L1964.7 332.7 L1966.7 331.7 L1968.7 330.7 L1970.7 329.7 L1972.7 328.8 L1974.7 327.8 L1976.7 326.9 L1978.7 325.9 L1980.7 325.0 L1982.7 324.0 L1984.7 323.1 L1986.7 322.1 L1988.7 321.1 L1990.7 320.2 L1992.7 319.2 L1994.7 318.2 L1996.7 317.2 L1998.7 316.2 L2000.7 315.2 L2002.7 314.2 L2004.7 313.2 L2006.7 312.3 L2008.7 311.3 L2010.7 310.3 L2012.7 309.3 L2014.7 308.4 L2016.7 307.4 L2018.7 306.5 L2020.7 305.6 L2022.7 304.7 L2024.7 303.8 L2025.0 303.7" stroke="#e4441f" stroke-width="12.5" stroke-linecap="round" fill="none"/>
<path d="M1920.0 359.0 L1922.0 357.6 L1924.0 356.3 L1926.0 354.9 L1928.0 353.6 L1930.0 352.3 L1932.0 351.0 L1934.0 349.7 L1936.0 348.5 L1938.0 347.3 L1940.0 346.0 L1942.0 344.9 L1944.0 343.7 L1946.0 342.5 L1948.0 341.4 L1948.7 341.0" stroke="#922511" stroke-width="13" stroke-linecap="round" fill="none"/>
<path d="M2025.0 303.7 L2027.0 302.8 L2029.0 302.0 L2031.0 301.1 L2033.0 300.2 L2035.0 299.4 L2037.0 298.5 L2039.0 297.7 L2041.0 296.8 L2043.0 296.0 L2045.0 295.1 L2047.0 294.3 L2049.0 293.4 L2051.0 292.6 L2053.0 291.8 L2055.0 291.0 L2057.0 290.1 L2059.0 289.3 L2061.0 288.5 L2063.0 287.7 L2065.0 286.9 L2067.0 286.1 L2069.0 285.3 L2071.0 284.5 L2073.0 283.7 L2075.0 282.9 L2077.0 282.2 L2079.0 281.4 L2081.0 280.6 L2083.0 279.9 L2085.0 279.1 L2087.0 278.3 L2089.0 277.6 L2091.0 276.9 L2093.0 276.1 L2095.0 275.4 L2097.0 274.7 L2099.0 274.0 L2101.0 273.2 L2103.0 272.5 L2105.0 271.8 L2107.0 271.1 L2109.0 270.5 L2111.0 269.8 L2113.0 269.1 L2115.0 268.4 L2117.0 267.8 L2119.0 267.1 L2121.0 266.5 L2122.0 266.2" stroke="#922511" stroke-width="12.5" stroke-linecap="round" fill="none"/>
<circle cx="1510.7" cy="621.5" r="6.5" fill="#f8651c"/>
<ellipse cx="1737.1" cy="500.9" rx="8.5" ry="6" transform="rotate(-36 1737.1 500.9)" fill="#e4441f"/>
<ellipse cx="1816" cy="441.2" rx="8.5" ry="6" transform="rotate(-36 1816 441.2)" fill="#e4441f"/>
<ellipse cx="1857.5" cy="406.5" rx="8.5" ry="6" transform="rotate(-36 1857.5 406.5)" fill="#e4441f"/>
<path d="M323.0 1214.1V1209.1M323.0 222.0V227.0M381.9 1214.1V1209.1M381.9 222.0V227.0M423.8 1214.1V1209.1M423.8 222.0V227.0M456.2 1214.1V1209.1M456.2 222.0V227.0M482.7 1214.1V1209.1M482.7 222.0V227.0M505.1 1214.1V1209.1M505.1 222.0V227.0M524.6 1214.1V1209.1M524.6 222.0V227.0M541.7 1214.1V1209.1M541.7 222.0V227.0M657.8 1214.1V1209.1M657.8 222.0V227.0M716.7 1214.1V1209.1M716.7 222.0V227.0M758.6 1214.1V1209.1M758.6 222.0V227.0M791.0 1214.1V1209.1M791.0 222.0V227.0M817.5 1214.1V1209.1M817.5 222.0V227.0M839.9 1214.1V1209.1M839.9 222.0V227.0M859.4 1214.1V1209.1M859.4 222.0V227.0M876.5 1214.1V1209.1M876.5 222.0V227.0M992.6 1214.1V1209.1M992.6 222.0V227.0M1051.5 1214.1V1209.1M1051.5 222.0V227.0M1093.4 1214.1V1209.1M1093.4 222.0V227.0M1125.8 1214.1V1209.1M1125.8 222.0V227.0M1152.3 1214.1V1209.1M1152.3 222.0V227.0M1174.7 1214.1V1209.1M1174.7 222.0V227.0M1194.2 1214.1V1209.1M1194.2 222.0V227.0M1211.3 1214.1V1209.1M1211.3 222.0V227.0M1327.4 1214.1V1209.1M1327.4 222.0V227.0M1386.3 1214.1V1209.1M1386.3 222.0V227.0M1428.2 1214.1V1209.1M1428.2 222.0V227.0M1460.6 1214.1V1209.1M1460.6 222.0V227.0M1487.1 1214.1V1209.1M1487.1 222.0V227.0M1509.5 1214.1V1209.1M1509.5 222.0V227.0M1529.0 1214.1V1209.1M1529.0 222.0V227.0M1546.1 1214.1V1209.1M1546.1 222.0V227.0M1662.2 1214.1V1209.1M1662.2 222.0V227.0M1721.1 1214.1V1209.1M1721.1 222.0V227.0M1763.0 1214.1V1209.1M1763.0 222.0V227.0M1795.4 1214.1V1209.1M1795.4 222.0V227.0M1821.9 1214.1V1209.1M1821.9 222.0V227.0M1844.3 1214.1V1209.1M1844.3 222.0V227.0M1863.8 1214.1V1209.1M1863.8 222.0V227.0M1880.9 1214.1V1209.1M1880.9 222.0V227.0M1997.0 1214.1V1209.1M1997.0 222.0V227.0M2055.9 1214.1V1209.1M2055.9 222.0V227.0M2097.8 1214.1V1209.1M2097.8 222.0V227.0M2130.2 1214.1V1209.1M2130.2 222.0V227.0M241.2 1101.6H252.2M2137.0 1101.6H2126.0M241.2 1029.6H252.2M2137.0 1029.6H2126.0M241.2 978.4H252.2M2137.0 978.4H2126.0M241.2 938.8H252.2M2137.0 938.8H2126.0M241.2 906.4H252.2M2137.0 906.4H2126.0M241.2 879.0H252.2M2137.0 879.0H2126.0M241.2 855.3H252.2M2137.0 855.3H2126.0M241.2 834.3H252.2M2137.0 834.3H2126.0M241.2 692.4H252.2M2137.0 692.4H2126.0M241.2 620.4H252.2M2137.0 620.4H2126.0M241.2 569.2H252.2M2137.0 569.2H2126.0M241.2 529.6H252.2M2137.0 529.6H2126.0M241.2 497.2H252.2M2137.0 497.2H2126.0M241.2 469.8H252.2M2137.0 469.8H2126.0M241.2 446.1H252.2M2137.0 446.1H2126.0M241.2 425.1H252.2M2137.0 425.1H2126.0M241.2 283.2H252.2M2137.0 283.2H2126.0" stroke="#c8c8c8" stroke-width="2.6" fill="none"/>
<path d="M323.0 1225.1V1214.1M323.0 211.0V222.0M381.9 1225.1V1214.1M381.9 211.0V222.0M423.8 1225.1V1214.1M423.8 211.0V222.0M456.2 1225.1V1214.1M456.2 211.0V222.0M482.7 1225.1V1214.1M482.7 211.0V222.0M505.1 1225.1V1214.1M505.1 211.0V222.0M524.6 1225.1V1214.1M524.6 211.0V222.0M541.7 1225.1V1214.1M541.7 211.0V222.0M557.0 1225.1V1204.1M557.0 211.0V232.0M657.8 1225.1V1214.1M657.8 211.0V222.0M716.7 1225.1V1214.1M716.7 211.0V222.0M758.6 1225.1V1214.1M758.6 211.0V222.0M791.0 1225.1V1214.1M791.0 211.0V222.0M817.5 1225.1V1214.1M817.5 211.0V222.0M839.9 1225.1V1214.1M839.9 211.0V222.0M859.4 1225.1V1214.1M859.4 211.0V222.0M876.5 1225.1V1214.1M876.5 211.0V222.0M891.8 1225.1V1204.1M891.8 211.0V232.0M992.6 1225.1V1214.1M992.6 211.0V222.0M1051.5 1225.1V1214.1M1051.5 211.0V222.0M1093.4 1225.1V1214.1M1093.4 211.0V222.0M1125.8 1225.1V1214.1M1125.8 211.0V222.0M1152.3 1225.1V1214.1M1152.3 211.0V222.0M1174.7 1225.1V1214.1M1174.7 211.0V222.0M1194.2 1225.1V1214.1M1194.2 211.0V222.0M1211.3 1225.1V1214.1M1211.3 211.0V222.0M1226.6 1225.1V1204.1M1226.6 211.0V232.0M1327.4 1225.1V1214.1M1327.4 211.0V222.0M1386.3 1225.1V1214.1M1386.3 211.0V222.0M1428.2 1225.1V1214.1M1428.2 211.0V222.0M1460.6 1225.1V1214.1M1460.6 211.0V222.0M1487.1 1225.1V1214.1M1487.1 211.0V222.0M1509.5 1225.1V1214.1M1509.5 211.0V222.0M1529.0 1225.1V1214.1M1529.0 211.0V222.0M1546.1 1225.1V1214.1M1546.1 211.0V222.0M1561.4 1225.1V1204.1M1561.4 211.0V232.0M1662.2 1225.1V1214.1M1662.2 211.0V222.0M1721.1 1225.1V1214.1M1721.1 211.0V222.0M1763.0 1225.1V1214.1M1763.0 211.0V222.0M1795.4 1225.1V1214.1M1795.4 211.0V222.0M1821.9 1225.1V1214.1M1821.9 211.0V222.0M1844.3 1225.1V1214.1M1844.3 211.0V222.0M1863.8 1225.1V1214.1M1863.8 211.0V222.0M1880.9 1225.1V1214.1M1880.9 211.0V222.0M1896.2 1225.1V1204.1M1896.2 211.0V232.0M1997.0 1225.1V1214.1M1997.0 211.0V222.0M2055.9 1225.1V1214.1M2055.9 211.0V222.0M2097.8 1225.1V1214.1M2097.8 211.0V222.0M2130.2 1225.1V1214.1M2130.2 211.0V222.0M222.2 1101.6H241.2M2156.0 1101.6H2137.0M222.2 1029.6H241.2M2156.0 1029.6H2137.0M222.2 978.4H241.2M2156.0 978.4H2137.0M222.2 938.8H241.2M2156.0 938.8H2137.0M222.2 906.4H241.2M2156.0 906.4H2137.0M222.2 879.0H241.2M2156.0 879.0H2137.0M222.2 855.3H241.2M2156.0 855.3H2137.0M222.2 834.3H241.2M2156.0 834.3H2137.0M222.2 815.6H261.2M2156.0 815.6H2117.0M222.2 692.4H241.2M2156.0 692.4H2137.0M222.2 620.4H241.2M2156.0 620.4H2137.0M222.2 569.2H241.2M2156.0 569.2H2137.0M222.2 529.6H241.2M2156.0 529.6H2137.0M222.2 497.2H241.2M2156.0 497.2H2137.0M222.2 469.8H241.2M2156.0 469.8H2137.0M222.2 446.1H241.2M2156.0 446.1H2137.0M222.2 425.1H241.2M2156.0 425.1H2137.0M222.2 406.4H261.2M2156.0 406.4H2117.0M222.2 283.2H241.2M2156.0 283.2H2137.0" stroke="#1a1a1a" stroke-width="2.8" fill="none"/>
<rect x="222.2" y="211.0" width="1933.8" height="1014.1" fill="none" stroke="#151515" stroke-width="2.7"/>
<rect x="839.0" y="1075.0" width="295.5" height="26.3" fill="#fe9400"/>
<rect x="1134.0" y="1075.0" width="295.5" height="26.3" fill="#fe6b1a"/>
<rect x="1429.0" y="1075.0" width="295.5" height="26.3" fill="#e6431f"/>
<rect x="1724.0" y="1075.0" width="295.5" height="26.3" fill="#922511"/>
<rect x="839.0" y="1075.0" width="1180.0" height="26.3" fill="none" stroke="#000" stroke-width="2.2"/>
<path d="M1134.0 1075.0V1081.0M1134.0 1101.3V1095.3M1429.0 1075.0V1081.0M1429.0 1101.3V1095.3M1724.0 1075.0V1081.0M1724.0 1101.3V1095.3" stroke="#000" stroke-width="3" fill="none"/>
<text id="tt1" transform="translate(972.42,85.40) scale(0.9959,1)" font-size="63.02" fill="#000">Discharge (m</text>
<text id="tt2" transform="translate(1340.64,63.60) scale(1.0169,1)" font-size="36.47" fill="#3b3536">3</text>
<text id="tt3" transform="translate(1362.19,85.40) scale(0.9938,1)" font-size="63.02" fill="#000">/s)</text>
<text id="tl1" transform="translate(355.45,182.68) scale(0.8800,1)" font-size="63.50" fill="#3b3536">0.01</text>
<text id="tl2" transform="translate(686.65,182.36) scale(0.8800,1)" font-size="63.50" fill="#3b3536">0.1</text>
<text id="tl3" transform="translate(1030.68,182.71) scale(0.8800,1)" font-size="63.50" fill="#3b3536">1.0</text>
<text id="tl4" transform="translate(1386.31,182.47) scale(0.8800,1)" font-size="63.50" fill="#3b3536">10.0</text>
<text id="tl5" transform="translate(1702.19,181.27) scale(0.8800,1)" font-size="63.50" fill="#3b3536">100</text>
<text id="ll1" transform="translate(138.41,425.62) scale(0.9600,1)" font-size="63.50" fill="#000">10</text>
<text id="ll2" transform="translate(168.81,835.40) scale(0.9600,1)" font-size="63.50" fill="#000">1</text>
<text id="ll3" transform="translate(171.44,1223.41) scale(0.9600,1)" font-size="63.50" fill="#000">0</text>
<text id="bl0" transform="translate(205.28,1302.58) scale(0.9600,1)" font-size="63.50" fill="#000">0</text>
<text id="bl1" transform="translate(536.23,1303.60) scale(0.9600,1)" font-size="63.50" fill="#000">1</text>
<text id="bl2" transform="translate(858.51,1303.08) scale(0.9600,1)" font-size="63.50" fill="#000">10</text>
<text id="bl3" transform="translate(1176.78,1303.60) scale(0.9600,1)" font-size="63.50" fill="#000">100</text>
<text id="bl4" transform="translate(1495.28,1303.00) scale(0.9600,1)" font-size="63.50" fill="#000">1000</text>
<text id="bl5" transform="translate(1811.69,1302.78) scale(0.9600,1)" font-size="63.50" fill="#000">10000</text>
<text id="bt" transform="translate(978.23,1369.52) scale(1.0343,1)" font-size="60.44" fill="#000">Discharge (cfs)</text>
<text id="lt" transform="translate(85.69,938.41) rotate(-90) scale(1.0094,1)" font-size="61.59" fill="#000">Gage Height (ft)</text>
<text id="rt" transform="translate(2343.18,481.26) rotate(90) scale(1.1087,1)" font-size="62.17" fill="#3b3536">Gage Height (m)</text>
<text id="rl1" transform="translate(2185.40,616.68) scale(0.9000,1)" font-size="68.50" fill="#3b3536">1.0</text>
<text id="rl2" transform="translate(2179.81,1033.80) scale(0.9000,1)" font-size="68.50" fill="#3b3536">0.1</text>
<text id="ly0" transform="translate(829.89,1061.70) scale(0.9500,1)" font-size="33.20" fill="#111">0</text>
<text id="ly1" transform="translate(1007.31,1061.70) scale(0.9500,1)" font-size="33.20" fill="#111">1</text>
<text id="ly2" transform="translate(1187.69,1061.70) scale(0.9500,1)" font-size="33.20" fill="#111">2</text>
<text id="ly3" transform="translate(1377.65,1061.70) scale(0.9500,1)" font-size="33.20" fill="#111">3</text>
<text id="ly4" transform="translate(1537.73,1061.70) scale(0.9500,1)" font-size="33.20" fill="#111">4</text>
<text id="ly5" transform="translate(1716.94,1061.70) scale(0.9500,1)" font-size="33.20" fill="#111">5</text>
<text id="ly6" transform="translate(1879.47,1062.30) scale(0.9500,1)" font-size="33.20" fill="#111">6</text>
<text id="lyy" transform="translate(2049.40,1060.60)" font-size="31.00" fill="#111">years</text>
<text id="lp0" transform="translate(829.89,1140.09) scale(0.9500,1)" font-size="33.20" fill="#111">0</text>
<text id="lp1" transform="translate(1115.36,1140.09) scale(0.9500,1)" font-size="33.20" fill="#111">25</text>
<text id="lp2" transform="translate(1411.04,1140.09) scale(0.9500,1)" font-size="33.20" fill="#111">50</text>
<text id="lp3" transform="translate(1705.78,1140.09) scale(0.9500,1)" font-size="33.20" fill="#111">75</text>
<text id="lp4" transform="translate(1993.56,1139.53) scale(1.0109,1)" font-size="31.31" fill="#111">100 (%)</text>
</svg>
</body></html>
